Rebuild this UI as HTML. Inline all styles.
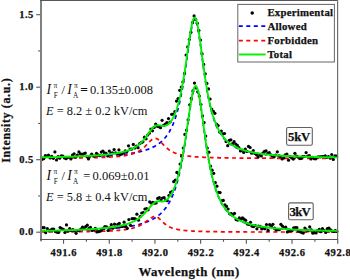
<!DOCTYPE html>
<html><head><meta charset="utf-8"><style>
html,body{margin:0;padding:0;background:#fff;overflow:hidden;}
svg{display:block;}
text{font-family:"Liberation Serif",serif;}
.tl{font-size:10.5px;font-weight:bold;fill:#111;}
.bw{stroke:#111;stroke-width:0.25px;}
.tl{stroke:#111;stroke-width:0.25px;}
.da{fill:none;stroke:#0000ff;stroke-width:1.7;stroke-dasharray:4 3.5;}
.df{fill:none;stroke:#ff0000;stroke-width:1.7;stroke-dasharray:4 3.5;}
.tot{fill:none;stroke:#00f000;stroke-width:1.9;stroke-linejoin:round;}
.ax line{stroke:#555;stroke-width:1.1;}
</style></head><body>
<svg width="350" height="280" viewBox="0 0 350 280">
<rect x="0" y="0" width="350" height="280" fill="#fff"/>
<g><path d="M41.5,157.6 L41.9,157.6 L42.3,157.5 L42.8,157.5 L43.2,157.5 L43.6,157.5 L44.0,157.5 L44.5,157.5 L44.9,157.5 L45.3,157.5 L45.7,157.5 L46.2,157.5 L46.6,157.5 L47.0,157.5 L47.4,157.5 L47.8,157.5 L48.3,157.5 L48.7,157.5 L49.1,157.5 L49.5,157.5 L50.0,157.5 L50.4,157.4 L50.8,157.4 L51.2,157.4 L51.6,157.4 L52.1,157.4 L52.5,157.4 L52.9,157.4 L53.3,157.4 L53.8,157.4 L54.2,157.4 L54.6,157.4 L55.0,157.4 L55.5,157.4 L55.9,157.4 L56.3,157.4 L56.7,157.3 L57.1,157.3 L57.6,157.3 L58.0,157.3 L58.4,157.3 L58.8,157.3 L59.3,157.3 L59.7,157.3 L60.1,157.3 L60.5,157.3 L60.9,157.3 L61.4,157.3 L61.8,157.3 L62.2,157.3 L62.6,157.2 L63.1,157.2 L63.5,157.2 L63.9,157.2 L64.3,157.2 L64.8,157.2 L65.2,157.2 L65.6,157.2 L66.0,157.2 L66.4,157.2 L66.9,157.2 L67.3,157.2 L67.7,157.2 L68.1,157.1 L68.6,157.1 L69.0,157.1 L69.4,157.1 L69.8,157.1 L70.2,157.1 L70.7,157.1 L71.1,157.1 L71.5,157.1 L71.9,157.1 L72.4,157.1 L72.8,157.0 L73.2,157.0 L73.6,157.0 L74.1,157.0 L74.5,157.0 L74.9,157.0 L75.3,157.0 L75.7,157.0 L76.2,157.0 L76.6,156.9 L77.0,156.9 L77.4,156.9 L77.9,156.9 L78.3,156.9 L78.7,156.9 L79.1,156.9 L79.5,156.9 L80.0,156.9 L80.4,156.8 L80.8,156.8 L81.2,156.8 L81.7,156.8 L82.1,156.8 L82.5,156.8 L82.9,156.8 L83.4,156.8 L83.8,156.7 L84.2,156.7 L84.6,156.7 L85.0,156.7 L85.5,156.7 L85.9,156.7 L86.3,156.7 L86.7,156.7 L87.2,156.6 L87.6,156.6 L88.0,156.6 L88.4,156.6 L88.8,156.6 L89.3,156.6 L89.7,156.6 L90.1,156.5 L90.5,156.5 L91.0,156.5 L91.4,156.5 L91.8,156.5 L92.2,156.5 L92.7,156.4 L93.1,156.4 L93.5,156.4 L93.9,156.4 L94.3,156.4 L94.8,156.4 L95.2,156.3 L95.6,156.3 L96.0,156.3 L96.5,156.3 L96.9,156.3 L97.3,156.2 L97.7,156.2 L98.1,156.2 L98.6,156.2 L99.0,156.2 L99.4,156.2 L99.8,156.1 L100.3,156.1 L100.7,156.1 L101.1,156.1 L101.5,156.0 L102.0,156.0 L102.4,156.0 L102.8,156.0 L103.2,156.0 L103.6,155.9 L104.1,155.9 L104.5,155.9 L104.9,155.9 L105.3,155.8 L105.8,155.8 L106.2,155.8 L106.6,155.8 L107.0,155.7 L107.4,155.7 L107.9,155.7 L108.3,155.7 L108.7,155.6 L109.1,155.6 L109.6,155.6 L110.0,155.6 L110.4,155.5 L110.8,155.5 L111.3,155.5 L111.7,155.4 L112.1,155.4 L112.5,155.4 L112.9,155.3 L113.4,155.3 L113.8,155.3 L114.2,155.2 L114.6,155.2 L115.1,155.2 L115.5,155.1 L115.9,155.1 L116.3,155.1 L116.7,155.0 L117.2,155.0 L117.6,155.0 L118.0,154.9 L118.4,154.9 L118.9,154.9 L119.3,154.8 L119.7,154.8 L120.1,154.7 L120.6,154.7 L121.0,154.6 L121.4,154.6 L121.8,154.6 L122.2,154.5 L122.7,154.5 L123.1,154.4 L123.5,154.4 L123.9,154.3 L124.4,154.3 L124.8,154.2 L125.2,154.2 L125.6,154.1 L126.0,154.1 L126.5,154.0 L126.9,154.0 L127.3,153.9 L127.7,153.9 L128.2,153.8 L128.6,153.8 L129.0,153.7 L129.4,153.6 L129.9,153.6 L130.3,153.5 L130.7,153.4 L131.1,153.4 L131.5,153.3 L132.0,153.2 L132.4,153.2 L132.8,153.1 L133.2,153.0 L133.7,153.0 L134.1,152.9 L134.5,152.8 L134.9,152.7 L135.3,152.7 L135.8,152.6 L136.2,152.5 L136.6,152.4 L137.0,152.3 L137.5,152.2 L137.9,152.2 L138.3,152.1 L138.7,152.0 L139.2,151.9 L139.6,151.8 L140.0,151.7 L140.4,151.6 L140.8,151.5 L141.3,151.4 L141.7,151.3 L142.1,151.2 L142.5,151.0 L143.0,150.9 L143.4,150.8 L143.8,150.7 L144.2,150.6 L144.7,150.4 L145.1,150.3 L145.5,150.2 L145.9,150.0 L146.3,149.9 L146.8,149.8 L147.2,149.6 L147.6,149.5 L148.0,149.3 L148.5,149.2 L148.9,149.0 L149.3,148.8 L149.7,148.7 L150.1,148.5 L150.6,148.3 L151.0,148.1 L151.4,148.0 L151.8,147.8 L152.3,147.6 L152.7,147.4 L153.1,147.1 L153.5,146.9 L154.0,146.7 L154.4,146.5 L154.8,146.3 L155.2,146.0 L155.6,145.8 L156.1,145.5 L156.5,145.3 L156.9,145.0 L157.3,144.7 L157.8,144.4 L158.2,144.1 L158.6,143.8 L159.0,143.5 L159.4,143.2 L159.9,142.9 L160.3,142.5 L160.7,142.2 L161.1,141.8 L161.6,141.4 L162.0,141.1 L162.4,140.7 L162.8,140.2 L163.3,139.8 L163.7,139.4 L164.1,138.9 L164.5,138.4 L164.9,138.0 L165.4,137.5 L165.8,136.9 L166.2,136.4 L166.6,135.8 L167.1,135.2 L167.5,134.6 L167.9,134.0 L168.3,133.4 L168.7,132.7 L169.2,132.0 L169.6,131.3 L170.0,130.5 L170.4,129.8 L170.9,129.0 L171.3,128.1 L171.7,127.2 L172.1,126.3 L172.6,125.4 L173.0,124.4 L173.4,123.4 L173.8,122.3 L174.2,121.2 L174.7,120.1 L175.1,118.9 L175.5,117.6 L175.9,116.3 L176.4,115.0 L176.8,113.6 L177.2,112.1 L177.6,110.6 L178.0,109.0 L178.5,107.4 L178.9,105.7 L179.3,103.9 L179.7,102.0 L180.2,100.1 L180.6,98.1 L181.0,96.0 L181.4,93.8 L181.9,91.6 L182.3,89.3 L182.7,86.9 L183.1,84.4 L183.5,81.8 L184.0,79.2 L184.4,76.5 L184.8,73.7 L185.2,70.8 L185.7,67.9 L186.1,64.9 L186.5,61.9 L186.9,58.8 L187.3,55.8 L187.8,52.7 L188.2,49.6 L188.6,46.6 L189.0,43.6 L189.5,40.6 L189.9,37.8 L190.3,35.0 L190.7,32.4 L191.2,30.0 L191.6,27.8 L192.0,25.8 L192.4,24.0 L192.8,22.5 L193.3,21.2 L193.7,20.3 L194.1,19.7 L194.5,19.4 L195.0,19.4 L195.4,19.8 L195.8,20.5 L196.2,21.5 L196.6,22.8 L197.1,24.5 L197.5,26.4 L197.9,28.6 L198.3,30.9 L198.8,33.5 L199.2,36.2 L199.6,39.1 L200.0,42.1 L200.5,45.2 L200.9,48.3 L201.3,51.5 L201.7,54.6 L202.1,57.8 L202.6,61.0 L203.0,64.1 L203.4,67.2 L203.8,70.2 L204.3,73.2 L204.7,76.0 L205.1,78.9 L205.5,81.6 L205.9,84.2 L206.4,86.8 L206.8,89.3 L207.2,91.7 L207.6,94.0 L208.1,96.2 L208.5,98.3 L208.9,100.4 L209.3,102.4 L209.8,104.3 L210.2,106.1 L210.6,107.8 L211.0,109.5 L211.4,111.1 L211.9,112.7 L212.3,114.2 L212.7,115.6 L213.1,116.9 L213.6,118.3 L214.0,119.5 L214.4,120.7 L214.8,121.9 L215.2,123.0 L215.7,124.1 L216.1,125.1 L216.5,126.1 L216.9,127.0 L217.4,127.9 L217.8,128.8 L218.2,129.6 L218.6,130.4 L219.1,131.2 L219.5,132.0 L219.9,132.7 L220.3,133.4 L220.7,134.0 L221.2,134.7 L221.6,135.3 L222.0,135.9 L222.4,136.5 L222.9,137.0 L223.3,137.6 L223.7,138.1 L224.1,138.6 L224.5,139.1 L225.0,139.5 L225.4,140.0 L225.8,140.4 L226.2,140.8 L226.7,141.2 L227.1,141.6 L227.5,142.0 L227.9,142.4 L228.4,142.7 L228.8,143.1 L229.2,143.4 L229.6,143.7 L230.0,144.0 L230.5,144.4 L230.9,144.6 L231.3,144.9 L231.7,145.2 L232.2,145.5 L232.6,145.7 L233.0,146.0 L233.4,146.2 L233.8,146.5 L234.3,146.7 L234.7,146.9 L235.1,147.2 L235.5,147.4 L236.0,147.6 L236.4,147.8 L236.8,148.0 L237.2,148.2 L237.7,148.4 L238.1,148.5 L238.5,148.7 L238.9,148.9 L239.3,149.1 L239.8,149.2 L240.2,149.4 L240.6,149.5 L241.0,149.7 L241.5,149.8 L241.9,150.0 L242.3,150.1 L242.7,150.3 L243.2,150.4 L243.6,150.5 L244.0,150.7 L244.4,150.8 L244.8,150.9 L245.3,151.0 L245.7,151.1 L246.1,151.3 L246.5,151.4 L247.0,151.5 L247.4,151.6 L247.8,151.7 L248.2,151.8 L248.6,151.9 L249.1,152.0 L249.5,152.1 L249.9,152.2 L250.3,152.3 L250.8,152.4 L251.2,152.4 L251.6,152.5 L252.0,152.6 L252.5,152.7 L252.9,152.8 L253.3,152.8 L253.7,152.9 L254.1,153.0 L254.6,153.1 L255.0,153.1 L255.4,153.2 L255.8,153.3 L256.3,153.4 L256.7,153.4 L257.1,153.5 L257.5,153.6 L257.9,153.6 L258.4,153.7 L258.8,153.7 L259.2,153.8 L259.6,153.9 L260.1,153.9 L260.5,154.0 L260.9,154.0 L261.3,154.1 L261.8,154.1 L262.2,154.2 L262.6,154.2 L263.0,154.3 L263.4,154.3 L263.9,154.4 L264.3,154.4 L264.7,154.5 L265.1,154.5 L265.6,154.6 L266.0,154.6 L266.4,154.7 L266.8,154.7 L267.2,154.7 L267.7,154.8 L268.1,154.8 L268.5,154.9 L268.9,154.9 L269.4,154.9 L269.8,155.0 L270.2,155.0 L270.6,155.1 L271.1,155.1 L271.5,155.1 L271.9,155.2 L272.3,155.2 L272.7,155.2 L273.2,155.3 L273.6,155.3 L274.0,155.3 L274.4,155.4 L274.9,155.4 L275.3,155.4 L275.7,155.5 L276.1,155.5 L276.5,155.5 L277.0,155.6 L277.4,155.6 L277.8,155.6 L278.2,155.6 L278.7,155.7 L279.1,155.7 L279.5,155.7 L279.9,155.8 L280.4,155.8 L280.8,155.8 L281.2,155.8 L281.6,155.9 L282.0,155.9 L282.5,155.9 L282.9,155.9 L283.3,155.9 L283.7,156.0 L284.2,156.0 L284.6,156.0 L285.0,156.0 L285.4,156.1 L285.8,156.1 L286.3,156.1 L286.7,156.1 L287.1,156.1 L287.5,156.2 L288.0,156.2 L288.4,156.2 L288.8,156.2 L289.2,156.2 L289.7,156.3 L290.1,156.3 L290.5,156.3 L290.9,156.3 L291.3,156.3 L291.8,156.4 L292.2,156.4 L292.6,156.4 L293.0,156.4 L293.5,156.4 L293.9,156.4 L294.3,156.5 L294.7,156.5 L295.1,156.5 L295.6,156.5 L296.0,156.5 L296.4,156.5 L296.8,156.6 L297.3,156.6 L297.7,156.6 L298.1,156.6 L298.5,156.6 L299.0,156.6 L299.4,156.7 L299.8,156.7 L300.2,156.7 L300.6,156.7 L301.1,156.7 L301.5,156.7 L301.9,156.7 L302.3,156.7 L302.8,156.8 L303.2,156.8 L303.6,156.8 L304.0,156.8 L304.4,156.8 L304.9,156.8 L305.3,156.8 L305.7,156.9 L306.1,156.9 L306.6,156.9 L307.0,156.9 L307.4,156.9 L307.8,156.9 L308.3,156.9 L308.7,156.9 L309.1,156.9 L309.5,157.0 L309.9,157.0 L310.4,157.0 L310.8,157.0 L311.2,157.0 L311.6,157.0 L312.1,157.0 L312.5,157.0 L312.9,157.0 L313.3,157.0 L313.7,157.1 L314.2,157.1 L314.6,157.1 L315.0,157.1 L315.4,157.1 L315.9,157.1 L316.3,157.1 L316.7,157.1 L317.1,157.1 L317.6,157.1 L318.0,157.2 L318.4,157.2 L318.8,157.2 L319.2,157.2 L319.7,157.2 L320.1,157.2 L320.5,157.2 L320.9,157.2 L321.4,157.2 L321.8,157.2 L322.2,157.2 L322.6,157.2 L323.0,157.3 L323.5,157.3 L323.9,157.3 L324.3,157.3 L324.7,157.3 L325.2,157.3 L325.6,157.3 L326.0,157.3 L326.4,157.3 L326.9,157.3 L327.3,157.3 L327.7,157.3 L328.1,157.3 L328.5,157.3 L329.0,157.4 L329.4,157.4 L329.8,157.4 L330.2,157.4 L330.7,157.4 L331.1,157.4 L331.5,157.4 L331.9,157.4 L332.3,157.4 L332.8,157.4 L333.2,157.4 L333.6,157.4 L334.0,157.4 L334.5,157.4 L334.9,157.4 L335.3,157.5 L335.7,157.5 L336.2,157.5 L336.6,157.5 L337.0,157.5" class="da"/><path d="M41.5,158.2 L41.9,158.2 L42.3,158.2 L42.8,158.2 L43.2,158.2 L43.6,158.2 L44.0,158.2 L44.5,158.2 L44.9,158.2 L45.3,158.2 L45.7,158.2 L46.2,158.2 L46.6,158.2 L47.0,158.2 L47.4,158.2 L47.8,158.2 L48.3,158.2 L48.7,158.2 L49.1,158.2 L49.5,158.2 L50.0,158.2 L50.4,158.2 L50.8,158.2 L51.2,158.2 L51.6,158.2 L52.1,158.2 L52.5,158.2 L52.9,158.2 L53.3,158.2 L53.8,158.2 L54.2,158.2 L54.6,158.2 L55.0,158.2 L55.5,158.2 L55.9,158.2 L56.3,158.2 L56.7,158.2 L57.1,158.2 L57.6,158.1 L58.0,158.1 L58.4,158.1 L58.8,158.1 L59.3,158.1 L59.7,158.1 L60.1,158.1 L60.5,158.1 L60.9,158.1 L61.4,158.1 L61.8,158.1 L62.2,158.1 L62.6,158.1 L63.1,158.1 L63.5,158.1 L63.9,158.1 L64.3,158.1 L64.8,158.1 L65.2,158.1 L65.6,158.1 L66.0,158.1 L66.4,158.1 L66.9,158.1 L67.3,158.1 L67.7,158.1 L68.1,158.1 L68.6,158.1 L69.0,158.1 L69.4,158.1 L69.8,158.1 L70.2,158.1 L70.7,158.0 L71.1,158.0 L71.5,158.0 L71.9,158.0 L72.4,158.0 L72.8,158.0 L73.2,158.0 L73.6,158.0 L74.1,158.0 L74.5,158.0 L74.9,158.0 L75.3,158.0 L75.7,158.0 L76.2,158.0 L76.6,158.0 L77.0,158.0 L77.4,158.0 L77.9,158.0 L78.3,158.0 L78.7,158.0 L79.1,158.0 L79.5,157.9 L80.0,157.9 L80.4,157.9 L80.8,157.9 L81.2,157.9 L81.7,157.9 L82.1,157.9 L82.5,157.9 L82.9,157.9 L83.4,157.9 L83.8,157.9 L84.2,157.9 L84.6,157.9 L85.0,157.9 L85.5,157.9 L85.9,157.9 L86.3,157.8 L86.7,157.8 L87.2,157.8 L87.6,157.8 L88.0,157.8 L88.4,157.8 L88.8,157.8 L89.3,157.8 L89.7,157.8 L90.1,157.8 L90.5,157.8 L91.0,157.8 L91.4,157.7 L91.8,157.7 L92.2,157.7 L92.7,157.7 L93.1,157.7 L93.5,157.7 L93.9,157.7 L94.3,157.7 L94.8,157.7 L95.2,157.7 L95.6,157.6 L96.0,157.6 L96.5,157.6 L96.9,157.6 L97.3,157.6 L97.7,157.6 L98.1,157.6 L98.6,157.6 L99.0,157.5 L99.4,157.5 L99.8,157.5 L100.3,157.5 L100.7,157.5 L101.1,157.5 L101.5,157.5 L102.0,157.5 L102.4,157.4 L102.8,157.4 L103.2,157.4 L103.6,157.4 L104.1,157.4 L104.5,157.4 L104.9,157.3 L105.3,157.3 L105.8,157.3 L106.2,157.3 L106.6,157.3 L107.0,157.2 L107.4,157.2 L107.9,157.2 L108.3,157.2 L108.7,157.2 L109.1,157.1 L109.6,157.1 L110.0,157.1 L110.4,157.1 L110.8,157.0 L111.3,157.0 L111.7,157.0 L112.1,157.0 L112.5,156.9 L112.9,156.9 L113.4,156.9 L113.8,156.8 L114.2,156.8 L114.6,156.8 L115.1,156.7 L115.5,156.7 L115.9,156.7 L116.3,156.6 L116.7,156.6 L117.2,156.6 L117.6,156.5 L118.0,156.5 L118.4,156.4 L118.9,156.4 L119.3,156.4 L119.7,156.3 L120.1,156.3 L120.6,156.2 L121.0,156.2 L121.4,156.1 L121.8,156.1 L122.2,156.0 L122.7,156.0 L123.1,155.9 L123.5,155.8 L123.9,155.8 L124.4,155.7 L124.8,155.6 L125.2,155.6 L125.6,155.5 L126.0,155.4 L126.5,155.4 L126.9,155.3 L127.3,155.2 L127.7,155.1 L128.2,155.0 L128.6,154.9 L129.0,154.8 L129.4,154.7 L129.9,154.6 L130.3,154.5 L130.7,154.4 L131.1,154.3 L131.5,154.2 L132.0,154.1 L132.4,153.9 L132.8,153.8 L133.2,153.7 L133.7,153.5 L134.1,153.4 L134.5,153.2 L134.9,153.1 L135.3,152.9 L135.8,152.7 L136.2,152.5 L136.6,152.3 L137.0,152.1 L137.5,151.9 L137.9,151.7 L138.3,151.5 L138.7,151.2 L139.2,151.0 L139.6,150.7 L140.0,150.5 L140.4,150.2 L140.8,149.9 L141.3,149.6 L141.7,149.3 L142.1,149.0 L142.5,148.7 L143.0,148.3 L143.4,148.0 L143.8,147.6 L144.2,147.2 L144.7,146.8 L145.1,146.4 L145.5,146.0 L145.9,145.6 L146.3,145.1 L146.8,144.7 L147.2,144.2 L147.6,143.8 L148.0,143.3 L148.5,142.9 L148.9,142.4 L149.3,142.0 L149.7,141.6 L150.1,141.1 L150.6,140.7 L151.0,140.3 L151.4,140.0 L151.8,139.6 L152.3,139.3 L152.7,139.0 L153.1,138.8 L153.5,138.6 L154.0,138.5 L154.4,138.4 L154.8,138.3 L155.2,138.3 L155.6,138.3 L156.1,138.4 L156.5,138.6 L156.9,138.7 L157.3,139.0 L157.8,139.2 L158.2,139.5 L158.6,139.9 L159.0,140.2 L159.4,140.6 L159.9,141.0 L160.3,141.4 L160.7,141.9 L161.1,142.3 L161.6,142.8 L162.0,143.2 L162.4,143.7 L162.8,144.1 L163.3,144.6 L163.7,145.0 L164.1,145.5 L164.5,145.9 L164.9,146.3 L165.4,146.7 L165.8,147.1 L166.2,147.5 L166.6,147.9 L167.1,148.3 L167.5,148.6 L167.9,148.9 L168.3,149.3 L168.7,149.6 L169.2,149.9 L169.6,150.2 L170.0,150.4 L170.4,150.7 L170.9,151.0 L171.3,151.2 L171.7,151.5 L172.1,151.7 L172.6,151.9 L173.0,152.1 L173.4,152.3 L173.8,152.5 L174.2,152.7 L174.7,152.9 L175.1,153.0 L175.5,153.2 L175.9,153.4 L176.4,153.5 L176.8,153.7 L177.2,153.8 L177.6,153.9 L178.0,154.1 L178.5,154.2 L178.9,154.3 L179.3,154.4 L179.7,154.5 L180.2,154.6 L180.6,154.7 L181.0,154.8 L181.4,154.9 L181.9,155.0 L182.3,155.1 L182.7,155.2 L183.1,155.3 L183.5,155.4 L184.0,155.4 L184.4,155.5 L184.8,155.6 L185.2,155.7 L185.7,155.7 L186.1,155.8 L186.5,155.8 L186.9,155.9 L187.3,156.0 L187.8,156.0 L188.2,156.1 L188.6,156.1 L189.0,156.2 L189.5,156.2 L189.9,156.3 L190.3,156.3 L190.7,156.4 L191.2,156.4 L191.6,156.5 L192.0,156.5 L192.4,156.5 L192.8,156.6 L193.3,156.6 L193.7,156.6 L194.1,156.7 L194.5,156.7 L195.0,156.8 L195.4,156.8 L195.8,156.8 L196.2,156.8 L196.6,156.9 L197.1,156.9 L197.5,156.9 L197.9,157.0 L198.3,157.0 L198.8,157.0 L199.2,157.0 L199.6,157.1 L200.0,157.1 L200.5,157.1 L200.9,157.1 L201.3,157.2 L201.7,157.2 L202.1,157.2 L202.6,157.2 L203.0,157.2 L203.4,157.3 L203.8,157.3 L204.3,157.3 L204.7,157.3 L205.1,157.3 L205.5,157.4 L205.9,157.4 L206.4,157.4 L206.8,157.4 L207.2,157.4 L207.6,157.4 L208.1,157.5 L208.5,157.5 L208.9,157.5 L209.3,157.5 L209.8,157.5 L210.2,157.5 L210.6,157.5 L211.0,157.6 L211.4,157.6 L211.9,157.6 L212.3,157.6 L212.7,157.6 L213.1,157.6 L213.6,157.6 L214.0,157.6 L214.4,157.7 L214.8,157.7 L215.2,157.7 L215.7,157.7 L216.1,157.7 L216.5,157.7 L216.9,157.7 L217.4,157.7 L217.8,157.7 L218.2,157.7 L218.6,157.8 L219.1,157.8 L219.5,157.8 L219.9,157.8 L220.3,157.8 L220.7,157.8 L221.2,157.8 L221.6,157.8 L222.0,157.8 L222.4,157.8 L222.9,157.8 L223.3,157.8 L223.7,157.8 L224.1,157.9 L224.5,157.9 L225.0,157.9 L225.4,157.9 L225.8,157.9 L226.2,157.9 L226.7,157.9 L227.1,157.9 L227.5,157.9 L227.9,157.9 L228.4,157.9 L228.8,157.9 L229.2,157.9 L229.6,157.9 L230.0,157.9 L230.5,158.0 L230.9,158.0 L231.3,158.0 L231.7,158.0 L232.2,158.0 L232.6,158.0 L233.0,158.0 L233.4,158.0 L233.8,158.0 L234.3,158.0 L234.7,158.0 L235.1,158.0 L235.5,158.0 L236.0,158.0 L236.4,158.0 L236.8,158.0 L237.2,158.0 L237.7,158.0 L238.1,158.0 L238.5,158.0 L238.9,158.0 L239.3,158.1 L239.8,158.1 L240.2,158.1 L240.6,158.1 L241.0,158.1 L241.5,158.1 L241.9,158.1 L242.3,158.1 L242.7,158.1 L243.2,158.1 L243.6,158.1 L244.0,158.1 L244.4,158.1 L244.8,158.1 L245.3,158.1 L245.7,158.1 L246.1,158.1 L246.5,158.1 L247.0,158.1 L247.4,158.1 L247.8,158.1 L248.2,158.1 L248.6,158.1 L249.1,158.1 L249.5,158.1 L249.9,158.1 L250.3,158.1 L250.8,158.1 L251.2,158.1 L251.6,158.1 L252.0,158.1 L252.5,158.2 L252.9,158.2 L253.3,158.2 L253.7,158.2 L254.1,158.2 L254.6,158.2 L255.0,158.2 L255.4,158.2 L255.8,158.2 L256.3,158.2 L256.7,158.2 L257.1,158.2 L257.5,158.2 L257.9,158.2 L258.4,158.2 L258.8,158.2 L259.2,158.2 L259.6,158.2 L260.1,158.2 L260.5,158.2 L260.9,158.2 L261.3,158.2 L261.8,158.2 L262.2,158.2 L262.6,158.2 L263.0,158.2 L263.4,158.2 L263.9,158.2 L264.3,158.2 L264.7,158.2 L265.1,158.2 L265.6,158.2 L266.0,158.2 L266.4,158.2 L266.8,158.2 L267.2,158.2 L267.7,158.2 L268.1,158.2 L268.5,158.2 L268.9,158.2 L269.4,158.2 L269.8,158.2 L270.2,158.2 L270.6,158.2 L271.1,158.2 L271.5,158.2 L271.9,158.2 L272.3,158.2 L272.7,158.2 L273.2,158.2 L273.6,158.3 L274.0,158.3 L274.4,158.3 L274.9,158.3 L275.3,158.3 L275.7,158.3 L276.1,158.3 L276.5,158.3 L277.0,158.3 L277.4,158.3 L277.8,158.3 L278.2,158.3 L278.7,158.3 L279.1,158.3 L279.5,158.3 L279.9,158.3 L280.4,158.3 L280.8,158.3 L281.2,158.3 L281.6,158.3 L282.0,158.3 L282.5,158.3 L282.9,158.3 L283.3,158.3 L283.7,158.3 L284.2,158.3 L284.6,158.3 L285.0,158.3 L285.4,158.3 L285.8,158.3 L286.3,158.3 L286.7,158.3 L287.1,158.3 L287.5,158.3 L288.0,158.3 L288.4,158.3 L288.8,158.3 L289.2,158.3 L289.7,158.3 L290.1,158.3 L290.5,158.3 L290.9,158.3 L291.3,158.3 L291.8,158.3 L292.2,158.3 L292.6,158.3 L293.0,158.3 L293.5,158.3 L293.9,158.3 L294.3,158.3 L294.7,158.3 L295.1,158.3 L295.6,158.3 L296.0,158.3 L296.4,158.3 L296.8,158.3 L297.3,158.3 L297.7,158.3 L298.1,158.3 L298.5,158.3 L299.0,158.3 L299.4,158.3 L299.8,158.3 L300.2,158.3 L300.6,158.3 L301.1,158.3 L301.5,158.3 L301.9,158.3 L302.3,158.3 L302.8,158.3 L303.2,158.3 L303.6,158.3 L304.0,158.3 L304.4,158.3 L304.9,158.3 L305.3,158.3 L305.7,158.3 L306.1,158.3 L306.6,158.3 L307.0,158.3 L307.4,158.3 L307.8,158.3 L308.3,158.3 L308.7,158.3 L309.1,158.3 L309.5,158.3 L309.9,158.3 L310.4,158.3 L310.8,158.3 L311.2,158.3 L311.6,158.3 L312.1,158.3 L312.5,158.3 L312.9,158.3 L313.3,158.3 L313.7,158.3 L314.2,158.3 L314.6,158.3 L315.0,158.3 L315.4,158.3 L315.9,158.3 L316.3,158.3 L316.7,158.3 L317.1,158.3 L317.6,158.3 L318.0,158.3 L318.4,158.3 L318.8,158.3 L319.2,158.4 L319.7,158.4 L320.1,158.4 L320.5,158.4 L320.9,158.4 L321.4,158.4 L321.8,158.4 L322.2,158.4 L322.6,158.4 L323.0,158.4 L323.5,158.4 L323.9,158.4 L324.3,158.4 L324.7,158.4 L325.2,158.4 L325.6,158.4 L326.0,158.4 L326.4,158.4 L326.9,158.4 L327.3,158.4 L327.7,158.4 L328.1,158.4 L328.5,158.4 L329.0,158.4 L329.4,158.4 L329.8,158.4 L330.2,158.4 L330.7,158.4 L331.1,158.4 L331.5,158.4 L331.9,158.4 L332.3,158.4 L332.8,158.4 L333.2,158.4 L333.6,158.4 L334.0,158.4 L334.5,158.4 L334.9,158.4 L335.3,158.4 L335.7,158.4 L336.2,158.4 L336.6,158.4 L337.0,158.4" class="df"/><path d="M41.5,231.1 L41.9,231.0 L42.3,231.0 L42.8,231.0 L43.2,231.0 L43.6,231.0 L44.0,231.0 L44.5,231.0 L44.9,231.0 L45.3,231.0 L45.7,231.0 L46.2,231.0 L46.6,231.0 L47.0,231.0 L47.4,231.0 L47.8,231.0 L48.3,231.0 L48.7,230.9 L49.1,230.9 L49.5,230.9 L50.0,230.9 L50.4,230.9 L50.8,230.9 L51.2,230.9 L51.6,230.9 L52.1,230.9 L52.5,230.9 L52.9,230.9 L53.3,230.9 L53.8,230.9 L54.2,230.8 L54.6,230.8 L55.0,230.8 L55.5,230.8 L55.9,230.8 L56.3,230.8 L56.7,230.8 L57.1,230.8 L57.6,230.8 L58.0,230.8 L58.4,230.8 L58.8,230.8 L59.3,230.8 L59.7,230.7 L60.1,230.7 L60.5,230.7 L60.9,230.7 L61.4,230.7 L61.8,230.7 L62.2,230.7 L62.6,230.7 L63.1,230.7 L63.5,230.7 L63.9,230.7 L64.3,230.6 L64.8,230.6 L65.2,230.6 L65.6,230.6 L66.0,230.6 L66.4,230.6 L66.9,230.6 L67.3,230.6 L67.7,230.6 L68.1,230.6 L68.6,230.5 L69.0,230.5 L69.4,230.5 L69.8,230.5 L70.2,230.5 L70.7,230.5 L71.1,230.5 L71.5,230.5 L71.9,230.5 L72.4,230.4 L72.8,230.4 L73.2,230.4 L73.6,230.4 L74.1,230.4 L74.5,230.4 L74.9,230.4 L75.3,230.4 L75.7,230.4 L76.2,230.3 L76.6,230.3 L77.0,230.3 L77.4,230.3 L77.9,230.3 L78.3,230.3 L78.7,230.3 L79.1,230.2 L79.5,230.2 L80.0,230.2 L80.4,230.2 L80.8,230.2 L81.2,230.2 L81.7,230.2 L82.1,230.1 L82.5,230.1 L82.9,230.1 L83.4,230.1 L83.8,230.1 L84.2,230.1 L84.6,230.1 L85.0,230.0 L85.5,230.0 L85.9,230.0 L86.3,230.0 L86.7,230.0 L87.2,230.0 L87.6,229.9 L88.0,229.9 L88.4,229.9 L88.8,229.9 L89.3,229.9 L89.7,229.9 L90.1,229.8 L90.5,229.8 L91.0,229.8 L91.4,229.8 L91.8,229.8 L92.2,229.7 L92.7,229.7 L93.1,229.7 L93.5,229.7 L93.9,229.7 L94.3,229.6 L94.8,229.6 L95.2,229.6 L95.6,229.6 L96.0,229.6 L96.5,229.5 L96.9,229.5 L97.3,229.5 L97.7,229.5 L98.1,229.5 L98.6,229.4 L99.0,229.4 L99.4,229.4 L99.8,229.4 L100.3,229.3 L100.7,229.3 L101.1,229.3 L101.5,229.3 L102.0,229.2 L102.4,229.2 L102.8,229.2 L103.2,229.2 L103.6,229.1 L104.1,229.1 L104.5,229.1 L104.9,229.0 L105.3,229.0 L105.8,229.0 L106.2,229.0 L106.6,228.9 L107.0,228.9 L107.4,228.9 L107.9,228.8 L108.3,228.8 L108.7,228.8 L109.1,228.7 L109.6,228.7 L110.0,228.7 L110.4,228.6 L110.8,228.6 L111.3,228.6 L111.7,228.5 L112.1,228.5 L112.5,228.5 L112.9,228.4 L113.4,228.4 L113.8,228.4 L114.2,228.3 L114.6,228.3 L115.1,228.2 L115.5,228.2 L115.9,228.2 L116.3,228.1 L116.7,228.1 L117.2,228.0 L117.6,228.0 L118.0,227.9 L118.4,227.9 L118.9,227.9 L119.3,227.8 L119.7,227.8 L120.1,227.7 L120.6,227.7 L121.0,227.6 L121.4,227.6 L121.8,227.5 L122.2,227.5 L122.7,227.4 L123.1,227.4 L123.5,227.3 L123.9,227.2 L124.4,227.2 L124.8,227.1 L125.2,227.1 L125.6,227.0 L126.0,227.0 L126.5,226.9 L126.9,226.8 L127.3,226.8 L127.7,226.7 L128.2,226.6 L128.6,226.6 L129.0,226.5 L129.4,226.4 L129.9,226.4 L130.3,226.3 L130.7,226.2 L131.1,226.1 L131.5,226.1 L132.0,226.0 L132.4,225.9 L132.8,225.8 L133.2,225.8 L133.7,225.7 L134.1,225.6 L134.5,225.5 L134.9,225.4 L135.3,225.3 L135.8,225.2 L136.2,225.1 L136.6,225.0 L137.0,224.9 L137.5,224.8 L137.9,224.7 L138.3,224.6 L138.7,224.5 L139.2,224.4 L139.6,224.3 L140.0,224.2 L140.4,224.1 L140.8,224.0 L141.3,223.8 L141.7,223.7 L142.1,223.6 L142.5,223.5 L143.0,223.3 L143.4,223.2 L143.8,223.1 L144.2,222.9 L144.7,222.8 L145.1,222.6 L145.5,222.5 L145.9,222.3 L146.3,222.2 L146.8,222.0 L147.2,221.8 L147.6,221.7 L148.0,221.5 L148.5,221.3 L148.9,221.1 L149.3,221.0 L149.7,220.8 L150.1,220.6 L150.6,220.4 L151.0,220.2 L151.4,220.0 L151.8,219.7 L152.3,219.5 L152.7,219.3 L153.1,219.1 L153.5,218.8 L154.0,218.6 L154.4,218.3 L154.8,218.1 L155.2,217.8 L155.6,217.5 L156.1,217.2 L156.5,217.0 L156.9,216.7 L157.3,216.4 L157.8,216.0 L158.2,215.7 L158.6,215.4 L159.0,215.0 L159.4,214.7 L159.9,214.3 L160.3,213.9 L160.7,213.6 L161.1,213.2 L161.6,212.8 L162.0,212.3 L162.4,211.9 L162.8,211.4 L163.3,211.0 L163.7,210.5 L164.1,210.0 L164.5,209.5 L164.9,209.0 L165.4,208.4 L165.8,207.9 L166.2,207.3 L166.6,206.7 L167.1,206.1 L167.5,205.4 L167.9,204.8 L168.3,204.1 L168.7,203.4 L169.2,202.6 L169.6,201.9 L170.0,201.1 L170.4,200.3 L170.9,199.4 L171.3,198.5 L171.7,197.6 L172.1,196.7 L172.6,195.7 L173.0,194.7 L173.4,193.6 L173.8,192.5 L174.2,191.4 L174.7,190.2 L175.1,189.0 L175.5,187.7 L175.9,186.4 L176.4,185.0 L176.8,183.6 L177.2,182.2 L177.6,180.6 L178.0,179.1 L178.5,177.4 L178.9,175.7 L179.3,173.9 L179.7,172.1 L180.2,170.2 L180.6,168.2 L181.0,166.2 L181.4,164.1 L181.9,161.9 L182.3,159.7 L182.7,157.3 L183.1,155.0 L183.5,152.5 L184.0,149.9 L184.4,147.3 L184.8,144.7 L185.2,141.9 L185.7,139.2 L186.1,136.3 L186.5,133.4 L186.9,130.5 L187.3,127.6 L187.8,124.6 L188.2,121.6 L188.6,118.6 L189.0,115.7 L189.5,112.8 L189.9,109.9 L190.3,107.2 L190.7,104.5 L191.2,101.9 L191.6,99.5 L192.0,97.2 L192.4,95.1 L192.8,93.2 L193.3,91.6 L193.7,90.1 L194.1,88.9 L194.5,88.0 L195.0,87.4 L195.4,87.0 L195.8,86.9 L196.2,87.2 L196.6,87.7 L197.1,88.5 L197.5,89.7 L197.9,91.1 L198.3,92.8 L198.8,94.7 L199.2,96.8 L199.6,99.1 L200.0,101.6 L200.5,104.3 L200.9,107.1 L201.3,109.9 L201.7,112.9 L202.1,115.9 L202.6,119.0 L203.0,122.1 L203.4,125.2 L203.8,128.2 L204.3,131.3 L204.7,134.3 L205.1,137.3 L205.5,140.2 L205.9,143.1 L206.4,145.9 L206.8,148.7 L207.2,151.3 L207.6,153.9 L208.1,156.4 L208.5,158.9 L208.9,161.2 L209.3,163.5 L209.8,165.7 L210.2,167.9 L210.6,169.9 L211.0,171.9 L211.4,173.8 L211.9,175.6 L212.3,177.4 L212.7,179.1 L213.1,180.8 L213.6,182.3 L214.0,183.9 L214.4,185.3 L214.8,186.7 L215.2,188.1 L215.7,189.4 L216.1,190.6 L216.5,191.8 L216.9,193.0 L217.4,194.1 L217.8,195.2 L218.2,196.2 L218.6,197.2 L219.1,198.2 L219.5,199.1 L219.9,200.0 L220.3,200.9 L220.7,201.7 L221.2,202.5 L221.6,203.3 L222.0,204.0 L222.4,204.7 L222.9,205.4 L223.3,206.1 L223.7,206.7 L224.1,207.3 L224.5,207.9 L225.0,208.5 L225.4,209.1 L225.8,209.6 L226.2,210.2 L226.7,210.7 L227.1,211.2 L227.5,211.6 L227.9,212.1 L228.4,212.5 L228.8,213.0 L229.2,213.4 L229.6,213.8 L230.0,214.2 L230.5,214.6 L230.9,214.9 L231.3,215.3 L231.7,215.6 L232.2,216.0 L232.6,216.3 L233.0,216.6 L233.4,216.9 L233.8,217.2 L234.3,217.5 L234.7,217.8 L235.1,218.1 L235.5,218.4 L236.0,218.6 L236.4,218.9 L236.8,219.1 L237.2,219.4 L237.7,219.6 L238.1,219.8 L238.5,220.0 L238.9,220.3 L239.3,220.5 L239.8,220.7 L240.2,220.9 L240.6,221.1 L241.0,221.3 L241.5,221.4 L241.9,221.6 L242.3,221.8 L242.7,222.0 L243.2,222.1 L243.6,222.3 L244.0,222.5 L244.4,222.6 L244.8,222.8 L245.3,222.9 L245.7,223.1 L246.1,223.2 L246.5,223.4 L247.0,223.5 L247.4,223.6 L247.8,223.8 L248.2,223.9 L248.6,224.0 L249.1,224.1 L249.5,224.2 L249.9,224.4 L250.3,224.5 L250.8,224.6 L251.2,224.7 L251.6,224.8 L252.0,224.9 L252.5,225.0 L252.9,225.1 L253.3,225.2 L253.7,225.3 L254.1,225.4 L254.6,225.5 L255.0,225.6 L255.4,225.7 L255.8,225.8 L256.3,225.8 L256.7,225.9 L257.1,226.0 L257.5,226.1 L257.9,226.2 L258.4,226.2 L258.8,226.3 L259.2,226.4 L259.6,226.5 L260.1,226.5 L260.5,226.6 L260.9,226.7 L261.3,226.7 L261.8,226.8 L262.2,226.9 L262.6,226.9 L263.0,227.0 L263.4,227.1 L263.9,227.1 L264.3,227.2 L264.7,227.2 L265.1,227.3 L265.6,227.4 L266.0,227.4 L266.4,227.5 L266.8,227.5 L267.2,227.6 L267.7,227.6 L268.1,227.7 L268.5,227.7 L268.9,227.8 L269.4,227.8 L269.8,227.9 L270.2,227.9 L270.6,228.0 L271.1,228.0 L271.5,228.0 L271.9,228.1 L272.3,228.1 L272.7,228.2 L273.2,228.2 L273.6,228.3 L274.0,228.3 L274.4,228.3 L274.9,228.4 L275.3,228.4 L275.7,228.5 L276.1,228.5 L276.5,228.5 L277.0,228.6 L277.4,228.6 L277.8,228.6 L278.2,228.7 L278.7,228.7 L279.1,228.7 L279.5,228.8 L279.9,228.8 L280.4,228.8 L280.8,228.9 L281.2,228.9 L281.6,228.9 L282.0,229.0 L282.5,229.0 L282.9,229.0 L283.3,229.1 L283.7,229.1 L284.2,229.1 L284.6,229.1 L285.0,229.2 L285.4,229.2 L285.8,229.2 L286.3,229.3 L286.7,229.3 L287.1,229.3 L287.5,229.3 L288.0,229.4 L288.4,229.4 L288.8,229.4 L289.2,229.4 L289.7,229.5 L290.1,229.5 L290.5,229.5 L290.9,229.5 L291.3,229.5 L291.8,229.6 L292.2,229.6 L292.6,229.6 L293.0,229.6 L293.5,229.7 L293.9,229.7 L294.3,229.7 L294.7,229.7 L295.1,229.7 L295.6,229.8 L296.0,229.8 L296.4,229.8 L296.8,229.8 L297.3,229.8 L297.7,229.9 L298.1,229.9 L298.5,229.9 L299.0,229.9 L299.4,229.9 L299.8,229.9 L300.2,230.0 L300.6,230.0 L301.1,230.0 L301.5,230.0 L301.9,230.0 L302.3,230.0 L302.8,230.1 L303.2,230.1 L303.6,230.1 L304.0,230.1 L304.4,230.1 L304.9,230.1 L305.3,230.2 L305.7,230.2 L306.1,230.2 L306.6,230.2 L307.0,230.2 L307.4,230.2 L307.8,230.2 L308.3,230.3 L308.7,230.3 L309.1,230.3 L309.5,230.3 L309.9,230.3 L310.4,230.3 L310.8,230.3 L311.2,230.4 L311.6,230.4 L312.1,230.4 L312.5,230.4 L312.9,230.4 L313.3,230.4 L313.7,230.4 L314.2,230.4 L314.6,230.5 L315.0,230.5 L315.4,230.5 L315.9,230.5 L316.3,230.5 L316.7,230.5 L317.1,230.5 L317.6,230.5 L318.0,230.5 L318.4,230.6 L318.8,230.6 L319.2,230.6 L319.7,230.6 L320.1,230.6 L320.5,230.6 L320.9,230.6 L321.4,230.6 L321.8,230.6 L322.2,230.6 L322.6,230.7 L323.0,230.7 L323.5,230.7 L323.9,230.7 L324.3,230.7 L324.7,230.7 L325.2,230.7 L325.6,230.7 L326.0,230.7 L326.4,230.7 L326.9,230.7 L327.3,230.8 L327.7,230.8 L328.1,230.8 L328.5,230.8 L329.0,230.8 L329.4,230.8 L329.8,230.8 L330.2,230.8 L330.7,230.8 L331.1,230.8 L331.5,230.8 L331.9,230.8 L332.3,230.9 L332.8,230.9 L333.2,230.9 L333.6,230.9 L334.0,230.9 L334.5,230.9 L334.9,230.9 L335.3,230.9 L335.7,230.9 L336.2,230.9 L336.6,230.9 L337.0,230.9" class="da"/><path d="M41.5,231.9 L41.9,231.9 L42.3,231.9 L42.8,231.9 L43.2,231.9 L43.6,231.9 L44.0,231.9 L44.5,231.9 L44.9,231.9 L45.3,231.9 L45.7,231.9 L46.2,231.9 L46.6,231.9 L47.0,231.9 L47.4,231.9 L47.8,231.9 L48.3,231.9 L48.7,231.9 L49.1,231.9 L49.5,231.9 L50.0,231.9 L50.4,231.9 L50.8,231.9 L51.2,231.9 L51.6,231.9 L52.1,231.9 L52.5,231.9 L52.9,231.9 L53.3,231.9 L53.8,231.9 L54.2,231.9 L54.6,231.9 L55.0,231.9 L55.5,231.9 L55.9,231.9 L56.3,231.9 L56.7,231.9 L57.1,231.9 L57.6,231.9 L58.0,231.9 L58.4,231.9 L58.8,231.9 L59.3,231.9 L59.7,231.9 L60.1,231.8 L60.5,231.8 L60.9,231.8 L61.4,231.8 L61.8,231.8 L62.2,231.8 L62.6,231.8 L63.1,231.8 L63.5,231.8 L63.9,231.8 L64.3,231.8 L64.8,231.8 L65.2,231.8 L65.6,231.8 L66.0,231.8 L66.4,231.8 L66.9,231.8 L67.3,231.8 L67.7,231.8 L68.1,231.8 L68.6,231.8 L69.0,231.8 L69.4,231.8 L69.8,231.8 L70.2,231.8 L70.7,231.8 L71.1,231.8 L71.5,231.8 L71.9,231.8 L72.4,231.8 L72.8,231.8 L73.2,231.8 L73.6,231.7 L74.1,231.7 L74.5,231.7 L74.9,231.7 L75.3,231.7 L75.7,231.7 L76.2,231.7 L76.6,231.7 L77.0,231.7 L77.4,231.7 L77.9,231.7 L78.3,231.7 L78.7,231.7 L79.1,231.7 L79.5,231.7 L80.0,231.7 L80.4,231.7 L80.8,231.7 L81.2,231.7 L81.7,231.7 L82.1,231.7 L82.5,231.6 L82.9,231.6 L83.4,231.6 L83.8,231.6 L84.2,231.6 L84.6,231.6 L85.0,231.6 L85.5,231.6 L85.9,231.6 L86.3,231.6 L86.7,231.6 L87.2,231.6 L87.6,231.6 L88.0,231.6 L88.4,231.6 L88.8,231.6 L89.3,231.5 L89.7,231.5 L90.1,231.5 L90.5,231.5 L91.0,231.5 L91.4,231.5 L91.8,231.5 L92.2,231.5 L92.7,231.5 L93.1,231.5 L93.5,231.5 L93.9,231.5 L94.3,231.4 L94.8,231.4 L95.2,231.4 L95.6,231.4 L96.0,231.4 L96.5,231.4 L96.9,231.4 L97.3,231.4 L97.7,231.4 L98.1,231.4 L98.6,231.3 L99.0,231.3 L99.4,231.3 L99.8,231.3 L100.3,231.3 L100.7,231.3 L101.1,231.3 L101.5,231.3 L102.0,231.2 L102.4,231.2 L102.8,231.2 L103.2,231.2 L103.6,231.2 L104.1,231.2 L104.5,231.2 L104.9,231.1 L105.3,231.1 L105.8,231.1 L106.2,231.1 L106.6,231.1 L107.0,231.1 L107.4,231.0 L107.9,231.0 L108.3,231.0 L108.7,231.0 L109.1,231.0 L109.6,230.9 L110.0,230.9 L110.4,230.9 L110.8,230.9 L111.3,230.9 L111.7,230.8 L112.1,230.8 L112.5,230.8 L112.9,230.8 L113.4,230.7 L113.8,230.7 L114.2,230.7 L114.6,230.7 L115.1,230.6 L115.5,230.6 L115.9,230.6 L116.3,230.5 L116.7,230.5 L117.2,230.5 L117.6,230.4 L118.0,230.4 L118.4,230.4 L118.9,230.3 L119.3,230.3 L119.7,230.3 L120.1,230.2 L120.6,230.2 L121.0,230.1 L121.4,230.1 L121.8,230.0 L122.2,230.0 L122.7,230.0 L123.1,229.9 L123.5,229.9 L123.9,229.8 L124.4,229.7 L124.8,229.7 L125.2,229.6 L125.6,229.6 L126.0,229.5 L126.5,229.4 L126.9,229.4 L127.3,229.3 L127.7,229.2 L128.2,229.2 L128.6,229.1 L129.0,229.0 L129.4,228.9 L129.9,228.8 L130.3,228.7 L130.7,228.7 L131.1,228.6 L131.5,228.5 L132.0,228.4 L132.4,228.3 L132.8,228.1 L133.2,228.0 L133.7,227.9 L134.1,227.8 L134.5,227.7 L134.9,227.5 L135.3,227.4 L135.8,227.2 L136.2,227.1 L136.6,226.9 L137.0,226.8 L137.5,226.6 L137.9,226.4 L138.3,226.3 L138.7,226.1 L139.2,225.9 L139.6,225.7 L140.0,225.5 L140.4,225.2 L140.8,225.0 L141.3,224.8 L141.7,224.5 L142.1,224.3 L142.5,224.0 L143.0,223.8 L143.4,223.5 L143.8,223.2 L144.2,222.9 L144.7,222.6 L145.1,222.3 L145.5,222.0 L145.9,221.7 L146.3,221.4 L146.8,221.1 L147.2,220.7 L147.6,220.4 L148.0,220.1 L148.5,219.7 L148.9,219.4 L149.3,219.1 L149.7,218.8 L150.1,218.5 L150.6,218.2 L151.0,217.9 L151.4,217.7 L151.8,217.4 L152.3,217.2 L152.7,217.0 L153.1,216.8 L153.5,216.7 L154.0,216.6 L154.4,216.5 L154.8,216.4 L155.2,216.4 L155.6,216.5 L156.1,216.5 L156.5,216.7 L156.9,216.9 L157.3,217.1 L157.8,217.4 L158.2,217.7 L158.6,218.0 L159.0,218.4 L159.4,218.8 L159.9,219.2 L160.3,219.6 L160.7,220.0 L161.1,220.5 L161.6,220.9 L162.0,221.3 L162.4,221.7 L162.8,222.1 L163.3,222.5 L163.7,222.9 L164.1,223.3 L164.5,223.6 L164.9,224.0 L165.4,224.3 L165.8,224.6 L166.2,225.0 L166.6,225.2 L167.1,225.5 L167.5,225.8 L167.9,226.0 L168.3,226.3 L168.7,226.5 L169.2,226.7 L169.6,227.0 L170.0,227.2 L170.4,227.3 L170.9,227.5 L171.3,227.7 L171.7,227.9 L172.1,228.0 L172.6,228.2 L173.0,228.3 L173.4,228.4 L173.8,228.6 L174.2,228.7 L174.7,228.8 L175.1,228.9 L175.5,229.0 L175.9,229.1 L176.4,229.2 L176.8,229.3 L177.2,229.4 L177.6,229.5 L178.0,229.6 L178.5,229.6 L178.9,229.7 L179.3,229.8 L179.7,229.9 L180.2,229.9 L180.6,230.0 L181.0,230.1 L181.4,230.1 L181.9,230.2 L182.3,230.2 L182.7,230.3 L183.1,230.3 L183.5,230.4 L184.0,230.4 L184.4,230.5 L184.8,230.5 L185.2,230.5 L185.7,230.6 L186.1,230.6 L186.5,230.7 L186.9,230.7 L187.3,230.7 L187.8,230.8 L188.2,230.8 L188.6,230.8 L189.0,230.9 L189.5,230.9 L189.9,230.9 L190.3,230.9 L190.7,231.0 L191.2,231.0 L191.6,231.0 L192.0,231.0 L192.4,231.1 L192.8,231.1 L193.3,231.1 L193.7,231.1 L194.1,231.1 L194.5,231.2 L195.0,231.2 L195.4,231.2 L195.8,231.2 L196.2,231.2 L196.6,231.3 L197.1,231.3 L197.5,231.3 L197.9,231.3 L198.3,231.3 L198.8,231.3 L199.2,231.4 L199.6,231.4 L200.0,231.4 L200.5,231.4 L200.9,231.4 L201.3,231.4 L201.7,231.4 L202.1,231.4 L202.6,231.5 L203.0,231.5 L203.4,231.5 L203.8,231.5 L204.3,231.5 L204.7,231.5 L205.1,231.5 L205.5,231.5 L205.9,231.5 L206.4,231.6 L206.8,231.6 L207.2,231.6 L207.6,231.6 L208.1,231.6 L208.5,231.6 L208.9,231.6 L209.3,231.6 L209.8,231.6 L210.2,231.6 L210.6,231.6 L211.0,231.6 L211.4,231.6 L211.9,231.7 L212.3,231.7 L212.7,231.7 L213.1,231.7 L213.6,231.7 L214.0,231.7 L214.4,231.7 L214.8,231.7 L215.2,231.7 L215.7,231.7 L216.1,231.7 L216.5,231.7 L216.9,231.7 L217.4,231.7 L217.8,231.7 L218.2,231.7 L218.6,231.8 L219.1,231.8 L219.5,231.8 L219.9,231.8 L220.3,231.8 L220.7,231.8 L221.2,231.8 L221.6,231.8 L222.0,231.8 L222.4,231.8 L222.9,231.8 L223.3,231.8 L223.7,231.8 L224.1,231.8 L224.5,231.8 L225.0,231.8 L225.4,231.8 L225.8,231.8 L226.2,231.8 L226.7,231.8 L227.1,231.8 L227.5,231.8 L227.9,231.8 L228.4,231.8 L228.8,231.8 L229.2,231.9 L229.6,231.9 L230.0,231.9 L230.5,231.9 L230.9,231.9 L231.3,231.9 L231.7,231.9 L232.2,231.9 L232.6,231.9 L233.0,231.9 L233.4,231.9 L233.8,231.9 L234.3,231.9 L234.7,231.9 L235.1,231.9 L235.5,231.9 L236.0,231.9 L236.4,231.9 L236.8,231.9 L237.2,231.9 L237.7,231.9 L238.1,231.9 L238.5,231.9 L238.9,231.9 L239.3,231.9 L239.8,231.9 L240.2,231.9 L240.6,231.9 L241.0,231.9 L241.5,231.9 L241.9,231.9 L242.3,231.9 L242.7,231.9 L243.2,231.9 L243.6,231.9 L244.0,231.9 L244.4,231.9 L244.8,231.9 L245.3,231.9 L245.7,231.9 L246.1,231.9 L246.5,232.0 L247.0,232.0 L247.4,232.0 L247.8,232.0 L248.2,232.0 L248.6,232.0 L249.1,232.0 L249.5,232.0 L249.9,232.0 L250.3,232.0 L250.8,232.0 L251.2,232.0 L251.6,232.0 L252.0,232.0 L252.5,232.0 L252.9,232.0 L253.3,232.0 L253.7,232.0 L254.1,232.0 L254.6,232.0 L255.0,232.0 L255.4,232.0 L255.8,232.0 L256.3,232.0 L256.7,232.0 L257.1,232.0 L257.5,232.0 L257.9,232.0 L258.4,232.0 L258.8,232.0 L259.2,232.0 L259.6,232.0 L260.1,232.0 L260.5,232.0 L260.9,232.0 L261.3,232.0 L261.8,232.0 L262.2,232.0 L262.6,232.0 L263.0,232.0 L263.4,232.0 L263.9,232.0 L264.3,232.0 L264.7,232.0 L265.1,232.0 L265.6,232.0 L266.0,232.0 L266.4,232.0 L266.8,232.0 L267.2,232.0 L267.7,232.0 L268.1,232.0 L268.5,232.0 L268.9,232.0 L269.4,232.0 L269.8,232.0 L270.2,232.0 L270.6,232.0 L271.1,232.0 L271.5,232.0 L271.9,232.0 L272.3,232.0 L272.7,232.0 L273.2,232.0 L273.6,232.0 L274.0,232.0 L274.4,232.0 L274.9,232.0 L275.3,232.0 L275.7,232.0 L276.1,232.0 L276.5,232.0 L277.0,232.0 L277.4,232.0 L277.8,232.0 L278.2,232.0 L278.7,232.0 L279.1,232.0 L279.5,232.0 L279.9,232.0 L280.4,232.0 L280.8,232.0 L281.2,232.0 L281.6,232.0 L282.0,232.0 L282.5,232.0 L282.9,232.0 L283.3,232.0 L283.7,232.0 L284.2,232.0 L284.6,232.0 L285.0,232.0 L285.4,232.0 L285.8,232.0 L286.3,232.0 L286.7,232.0 L287.1,232.0 L287.5,232.0 L288.0,232.0 L288.4,232.1 L288.8,232.1 L289.2,232.1 L289.7,232.1 L290.1,232.1 L290.5,232.1 L290.9,232.1 L291.3,232.1 L291.8,232.1 L292.2,232.1 L292.6,232.1 L293.0,232.1 L293.5,232.1 L293.9,232.1 L294.3,232.1 L294.7,232.1 L295.1,232.1 L295.6,232.1 L296.0,232.1 L296.4,232.1 L296.8,232.1 L297.3,232.1 L297.7,232.1 L298.1,232.1 L298.5,232.1 L299.0,232.1 L299.4,232.1 L299.8,232.1 L300.2,232.1 L300.6,232.1 L301.1,232.1 L301.5,232.1 L301.9,232.1 L302.3,232.1 L302.8,232.1 L303.2,232.1 L303.6,232.1 L304.0,232.1 L304.4,232.1 L304.9,232.1 L305.3,232.1 L305.7,232.1 L306.1,232.1 L306.6,232.1 L307.0,232.1 L307.4,232.1 L307.8,232.1 L308.3,232.1 L308.7,232.1 L309.1,232.1 L309.5,232.1 L309.9,232.1 L310.4,232.1 L310.8,232.1 L311.2,232.1 L311.6,232.1 L312.1,232.1 L312.5,232.1 L312.9,232.1 L313.3,232.1 L313.7,232.1 L314.2,232.1 L314.6,232.1 L315.0,232.1 L315.4,232.1 L315.9,232.1 L316.3,232.1 L316.7,232.1 L317.1,232.1 L317.6,232.1 L318.0,232.1 L318.4,232.1 L318.8,232.1 L319.2,232.1 L319.7,232.1 L320.1,232.1 L320.5,232.1 L320.9,232.1 L321.4,232.1 L321.8,232.1 L322.2,232.1 L322.6,232.1 L323.0,232.1 L323.5,232.1 L323.9,232.1 L324.3,232.1 L324.7,232.1 L325.2,232.1 L325.6,232.1 L326.0,232.1 L326.4,232.1 L326.9,232.1 L327.3,232.1 L327.7,232.1 L328.1,232.1 L328.5,232.1 L329.0,232.1 L329.4,232.1 L329.8,232.1 L330.2,232.1 L330.7,232.1 L331.1,232.1 L331.5,232.1 L331.9,232.1 L332.3,232.1 L332.8,232.1 L333.2,232.1 L333.6,232.1 L334.0,232.1 L334.5,232.1 L334.9,232.1 L335.3,232.1 L335.7,232.1 L336.2,232.1 L336.6,232.1 L337.0,232.1" class="df"/></g>
<g fill="#000"><circle cx="42.1" cy="159.3" r="1.6"/><circle cx="43.7" cy="158.7" r="1.6"/><circle cx="45.3" cy="155.7" r="1.6"/><circle cx="46.9" cy="156.0" r="1.6"/><circle cx="48.5" cy="155.2" r="1.6"/><circle cx="50.1" cy="158.0" r="1.6"/><circle cx="51.7" cy="156.3" r="1.6"/><circle cx="53.3" cy="158.3" r="1.6"/><circle cx="54.9" cy="151.9" r="1.6"/><circle cx="56.5" cy="160.0" r="1.6"/><circle cx="58.1" cy="156.5" r="1.6"/><circle cx="59.7" cy="158.2" r="1.6"/><circle cx="61.3" cy="155.8" r="1.6"/><circle cx="62.9" cy="156.2" r="1.6"/><circle cx="64.5" cy="158.0" r="1.6"/><circle cx="66.1" cy="158.7" r="1.6"/><circle cx="67.7" cy="157.3" r="1.6"/><circle cx="69.3" cy="157.3" r="1.6"/><circle cx="70.9" cy="158.9" r="1.6"/><circle cx="72.5" cy="155.1" r="1.6"/><circle cx="74.1" cy="153.8" r="1.6"/><circle cx="75.7" cy="157.2" r="1.6"/><circle cx="77.3" cy="155.0" r="1.6"/><circle cx="78.9" cy="151.9" r="1.6"/><circle cx="80.5" cy="153.9" r="1.6"/><circle cx="82.1" cy="154.4" r="1.6"/><circle cx="83.7" cy="153.8" r="1.6"/><circle cx="85.3" cy="153.1" r="1.6"/><circle cx="86.9" cy="156.4" r="1.6"/><circle cx="88.5" cy="158.9" r="1.6"/><circle cx="90.1" cy="156.0" r="1.6"/><circle cx="91.7" cy="154.1" r="1.6"/><circle cx="93.3" cy="156.1" r="1.6"/><circle cx="94.9" cy="156.0" r="1.6"/><circle cx="96.5" cy="153.4" r="1.6"/><circle cx="98.1" cy="154.9" r="1.6"/><circle cx="99.7" cy="155.7" r="1.6"/><circle cx="101.3" cy="152.1" r="1.6"/><circle cx="102.9" cy="151.0" r="1.6"/><circle cx="104.5" cy="152.9" r="1.6"/><circle cx="106.1" cy="153.3" r="1.6"/><circle cx="107.7" cy="155.9" r="1.6"/><circle cx="109.3" cy="151.0" r="1.6"/><circle cx="110.9" cy="153.2" r="1.6"/><circle cx="112.5" cy="152.9" r="1.6"/><circle cx="114.1" cy="149.6" r="1.6"/><circle cx="115.7" cy="152.8" r="1.6"/><circle cx="117.3" cy="153.6" r="1.6"/><circle cx="118.9" cy="149.9" r="1.6"/><circle cx="120.5" cy="154.4" r="1.6"/><circle cx="122.1" cy="153.8" r="1.6"/><circle cx="123.7" cy="152.5" r="1.6"/><circle cx="125.3" cy="150.8" r="1.6"/><circle cx="126.9" cy="151.6" r="1.6"/><circle cx="128.5" cy="145.8" r="1.6"/><circle cx="130.1" cy="149.1" r="1.6"/><circle cx="131.7" cy="149.1" r="1.6"/><circle cx="133.3" cy="144.4" r="1.6"/><circle cx="134.9" cy="148.0" r="1.6"/><circle cx="136.5" cy="146.1" r="1.6"/><circle cx="138.1" cy="147.7" r="1.6"/><circle cx="139.7" cy="143.6" r="1.6"/><circle cx="141.3" cy="142.7" r="1.6"/><circle cx="142.9" cy="141.8" r="1.6"/><circle cx="144.5" cy="137.2" r="1.6"/><circle cx="146.1" cy="138.8" r="1.6"/><circle cx="147.7" cy="135.0" r="1.6"/><circle cx="149.3" cy="133.2" r="1.6"/><circle cx="150.9" cy="129.1" r="1.6"/><circle cx="152.5" cy="130.8" r="1.6"/><circle cx="154.1" cy="127.4" r="1.6"/><circle cx="155.7" cy="124.0" r="1.6"/><circle cx="157.3" cy="126.2" r="1.6"/><circle cx="158.9" cy="126.7" r="1.6"/><circle cx="160.5" cy="127.7" r="1.6"/><circle cx="162.1" cy="120.3" r="1.6"/><circle cx="163.7" cy="125.4" r="1.6"/><circle cx="165.3" cy="124.0" r="1.6"/><circle cx="166.9" cy="122.6" r="1.6"/><circle cx="168.5" cy="118.6" r="1.6"/><circle cx="170.1" cy="122.0" r="1.6"/><circle cx="171.7" cy="114.3" r="1.6"/><circle cx="173.3" cy="114.1" r="1.6"/><circle cx="174.9" cy="111.5" r="1.6"/><circle cx="176.5" cy="101.1" r="1.6"/><circle cx="178.1" cy="98.6" r="1.6"/><circle cx="179.7" cy="90.3" r="1.6"/><circle cx="181.3" cy="87.1" r="1.6"/><circle cx="182.9" cy="81.9" r="1.6"/><circle cx="184.5" cy="73.4" r="1.6"/><circle cx="186.1" cy="55.0" r="1.6"/><circle cx="187.7" cy="46.9" r="1.6"/><circle cx="189.3" cy="39.5" r="1.6"/><circle cx="190.9" cy="32.3" r="1.6"/><circle cx="192.5" cy="22.7" r="1.6"/><circle cx="194.1" cy="15.9" r="1.6"/><circle cx="195.7" cy="19.4" r="1.6"/><circle cx="197.3" cy="23.3" r="1.6"/><circle cx="198.9" cy="30.6" r="1.6"/><circle cx="200.5" cy="40.1" r="1.6"/><circle cx="202.1" cy="53.9" r="1.6"/><circle cx="203.7" cy="64.4" r="1.6"/><circle cx="205.3" cy="73.8" r="1.6"/><circle cx="206.9" cy="83.4" r="1.6"/><circle cx="208.5" cy="88.9" r="1.6"/><circle cx="210.1" cy="99.0" r="1.6"/><circle cx="211.7" cy="109.0" r="1.6"/><circle cx="213.3" cy="111.3" r="1.6"/><circle cx="214.9" cy="113.3" r="1.6"/><circle cx="216.5" cy="124.1" r="1.6"/><circle cx="218.1" cy="125.6" r="1.6"/><circle cx="219.7" cy="132.0" r="1.6"/><circle cx="221.3" cy="131.1" r="1.6"/><circle cx="222.9" cy="133.9" r="1.6"/><circle cx="224.5" cy="133.5" r="1.6"/><circle cx="226.1" cy="141.6" r="1.6"/><circle cx="227.7" cy="145.7" r="1.6"/><circle cx="229.3" cy="140.3" r="1.6"/><circle cx="230.9" cy="139.8" r="1.6"/><circle cx="232.5" cy="143.7" r="1.6"/><circle cx="234.1" cy="141.7" r="1.6"/><circle cx="235.7" cy="144.0" r="1.6"/><circle cx="237.3" cy="145.3" r="1.6"/><circle cx="238.9" cy="147.7" r="1.6"/><circle cx="240.5" cy="150.9" r="1.6"/><circle cx="242.1" cy="150.2" r="1.6"/><circle cx="243.7" cy="152.5" r="1.6"/><circle cx="245.3" cy="149.0" r="1.6"/><circle cx="246.9" cy="151.4" r="1.6"/><circle cx="248.5" cy="146.4" r="1.6"/><circle cx="250.1" cy="147.5" r="1.6"/><circle cx="251.7" cy="153.2" r="1.6"/><circle cx="253.3" cy="150.5" r="1.6"/><circle cx="254.9" cy="153.5" r="1.6"/><circle cx="256.5" cy="154.8" r="1.6"/><circle cx="258.1" cy="157.0" r="1.6"/><circle cx="259.7" cy="155.0" r="1.6"/><circle cx="261.3" cy="155.9" r="1.6"/><circle cx="262.9" cy="153.2" r="1.6"/><circle cx="264.5" cy="151.3" r="1.6"/><circle cx="266.1" cy="150.9" r="1.6"/><circle cx="267.7" cy="153.5" r="1.6"/><circle cx="269.3" cy="152.7" r="1.6"/><circle cx="270.9" cy="154.9" r="1.6"/><circle cx="272.5" cy="155.9" r="1.6"/><circle cx="274.1" cy="156.8" r="1.6"/><circle cx="275.7" cy="155.0" r="1.6"/><circle cx="277.3" cy="151.8" r="1.6"/><circle cx="278.9" cy="155.9" r="1.6"/><circle cx="280.5" cy="156.4" r="1.6"/><circle cx="282.1" cy="159.0" r="1.6"/><circle cx="283.7" cy="157.9" r="1.6"/><circle cx="285.3" cy="154.8" r="1.6"/><circle cx="286.9" cy="154.1" r="1.6"/><circle cx="288.5" cy="160.2" r="1.6"/><circle cx="290.1" cy="156.7" r="1.6"/><circle cx="291.7" cy="158.0" r="1.6"/><circle cx="293.3" cy="159.1" r="1.6"/><circle cx="294.9" cy="153.3" r="1.6"/><circle cx="296.5" cy="156.1" r="1.6"/><circle cx="298.1" cy="157.1" r="1.6"/><circle cx="299.7" cy="158.6" r="1.6"/><circle cx="301.3" cy="158.4" r="1.6"/><circle cx="302.9" cy="156.5" r="1.6"/><circle cx="304.5" cy="156.5" r="1.6"/><circle cx="306.1" cy="152.6" r="1.6"/><circle cx="307.7" cy="156.1" r="1.6"/><circle cx="309.3" cy="155.5" r="1.6"/><circle cx="310.9" cy="159.0" r="1.6"/><circle cx="312.5" cy="157.4" r="1.6"/><circle cx="314.1" cy="158.7" r="1.6"/><circle cx="315.7" cy="158.8" r="1.6"/><circle cx="317.3" cy="157.0" r="1.6"/><circle cx="318.9" cy="156.8" r="1.6"/><circle cx="320.5" cy="156.8" r="1.6"/><circle cx="322.1" cy="156.6" r="1.6"/><circle cx="323.7" cy="156.5" r="1.6"/><circle cx="325.3" cy="155.9" r="1.6"/><circle cx="326.9" cy="157.3" r="1.6"/><circle cx="328.5" cy="156.7" r="1.6"/><circle cx="330.1" cy="158.1" r="1.6"/><circle cx="331.7" cy="154.5" r="1.6"/><circle cx="333.3" cy="159.4" r="1.6"/><circle cx="334.9" cy="155.9" r="1.6"/><circle cx="336.5" cy="156.2" r="1.6"/><circle cx="42.5" cy="227.6" r="1.6"/><circle cx="44.1" cy="227.7" r="1.6"/><circle cx="45.7" cy="232.7" r="1.6"/><circle cx="47.3" cy="228.5" r="1.6"/><circle cx="48.9" cy="230.8" r="1.6"/><circle cx="50.5" cy="230.1" r="1.6"/><circle cx="52.1" cy="229.1" r="1.6"/><circle cx="53.7" cy="229.0" r="1.6"/><circle cx="55.3" cy="231.5" r="1.6"/><circle cx="56.9" cy="232.2" r="1.6"/><circle cx="58.5" cy="232.4" r="1.6"/><circle cx="60.1" cy="227.5" r="1.6"/><circle cx="61.7" cy="228.6" r="1.6"/><circle cx="63.3" cy="229.4" r="1.6"/><circle cx="64.9" cy="232.5" r="1.6"/><circle cx="66.5" cy="224.9" r="1.6"/><circle cx="68.1" cy="231.2" r="1.6"/><circle cx="69.7" cy="228.5" r="1.6"/><circle cx="71.3" cy="230.6" r="1.6"/><circle cx="72.9" cy="229.6" r="1.6"/><circle cx="74.5" cy="230.6" r="1.6"/><circle cx="76.1" cy="233.3" r="1.6"/><circle cx="77.7" cy="230.7" r="1.6"/><circle cx="79.3" cy="230.6" r="1.6"/><circle cx="80.9" cy="229.0" r="1.6"/><circle cx="82.5" cy="227.0" r="1.6"/><circle cx="84.1" cy="228.6" r="1.6"/><circle cx="85.7" cy="226.6" r="1.6"/><circle cx="87.3" cy="225.2" r="1.6"/><circle cx="88.9" cy="228.4" r="1.6"/><circle cx="90.5" cy="227.4" r="1.6"/><circle cx="92.1" cy="230.5" r="1.6"/><circle cx="93.7" cy="229.8" r="1.6"/><circle cx="95.3" cy="228.3" r="1.6"/><circle cx="96.9" cy="231.9" r="1.6"/><circle cx="98.5" cy="231.6" r="1.6"/><circle cx="100.1" cy="231.2" r="1.6"/><circle cx="101.7" cy="229.8" r="1.6"/><circle cx="103.3" cy="228.3" r="1.6"/><circle cx="104.9" cy="226.6" r="1.6"/><circle cx="106.5" cy="226.8" r="1.6"/><circle cx="108.1" cy="230.5" r="1.6"/><circle cx="109.7" cy="227.9" r="1.6"/><circle cx="111.3" cy="224.7" r="1.6"/><circle cx="112.9" cy="228.2" r="1.6"/><circle cx="114.5" cy="224.2" r="1.6"/><circle cx="116.1" cy="227.2" r="1.6"/><circle cx="117.7" cy="224.4" r="1.6"/><circle cx="119.3" cy="223.4" r="1.6"/><circle cx="120.9" cy="226.6" r="1.6"/><circle cx="122.5" cy="226.4" r="1.6"/><circle cx="124.1" cy="222.2" r="1.6"/><circle cx="125.7" cy="226.4" r="1.6"/><circle cx="127.3" cy="228.3" r="1.6"/><circle cx="128.9" cy="219.5" r="1.6"/><circle cx="130.5" cy="225.3" r="1.6"/><circle cx="132.1" cy="218.7" r="1.6"/><circle cx="133.7" cy="218.5" r="1.6"/><circle cx="135.3" cy="218.9" r="1.6"/><circle cx="136.9" cy="214.2" r="1.6"/><circle cx="138.5" cy="220.2" r="1.6"/><circle cx="140.1" cy="216.7" r="1.6"/><circle cx="141.7" cy="213.0" r="1.6"/><circle cx="143.3" cy="212.5" r="1.6"/><circle cx="144.9" cy="209.0" r="1.6"/><circle cx="146.5" cy="208.5" r="1.6"/><circle cx="148.1" cy="209.8" r="1.6"/><circle cx="149.7" cy="201.9" r="1.6"/><circle cx="151.3" cy="203.1" r="1.6"/><circle cx="152.9" cy="202.3" r="1.6"/><circle cx="154.5" cy="203.2" r="1.6"/><circle cx="156.1" cy="202.9" r="1.6"/><circle cx="157.7" cy="198.4" r="1.6"/><circle cx="159.3" cy="197.6" r="1.6"/><circle cx="160.9" cy="200.0" r="1.6"/><circle cx="162.5" cy="198.0" r="1.6"/><circle cx="164.1" cy="197.5" r="1.6"/><circle cx="165.7" cy="200.0" r="1.6"/><circle cx="167.3" cy="200.7" r="1.6"/><circle cx="168.9" cy="195.5" r="1.6"/><circle cx="170.5" cy="192.4" r="1.6"/><circle cx="172.1" cy="191.7" r="1.6"/><circle cx="173.7" cy="181.7" r="1.6"/><circle cx="175.3" cy="180.0" r="1.6"/><circle cx="176.9" cy="172.4" r="1.6"/><circle cx="178.5" cy="173.8" r="1.6"/><circle cx="180.1" cy="164.0" r="1.6"/><circle cx="181.7" cy="156.2" r="1.6"/><circle cx="183.3" cy="148.1" r="1.6"/><circle cx="184.9" cy="134.4" r="1.6"/><circle cx="186.5" cy="130.1" r="1.6"/><circle cx="188.1" cy="119.8" r="1.6"/><circle cx="189.7" cy="104.8" r="1.6"/><circle cx="191.3" cy="98.4" r="1.6"/><circle cx="192.9" cy="90.9" r="1.6"/><circle cx="194.5" cy="83.1" r="1.6"/><circle cx="196.1" cy="88.0" r="1.6"/><circle cx="197.7" cy="91.8" r="1.6"/><circle cx="199.3" cy="96.1" r="1.6"/><circle cx="200.9" cy="104.5" r="1.6"/><circle cx="202.5" cy="115.8" r="1.6"/><circle cx="204.1" cy="122.6" r="1.6"/><circle cx="205.7" cy="136.1" r="1.6"/><circle cx="207.3" cy="148.1" r="1.6"/><circle cx="208.9" cy="152.2" r="1.6"/><circle cx="210.5" cy="166.2" r="1.6"/><circle cx="212.1" cy="170.2" r="1.6"/><circle cx="213.7" cy="173.3" r="1.6"/><circle cx="215.3" cy="182.6" r="1.6"/><circle cx="216.9" cy="186.2" r="1.6"/><circle cx="218.5" cy="192.3" r="1.6"/><circle cx="220.1" cy="192.6" r="1.6"/><circle cx="221.7" cy="200.8" r="1.6"/><circle cx="223.3" cy="200.4" r="1.6"/><circle cx="224.9" cy="204.8" r="1.6"/><circle cx="226.5" cy="206.4" r="1.6"/><circle cx="228.1" cy="209.0" r="1.6"/><circle cx="229.7" cy="213.8" r="1.6"/><circle cx="231.3" cy="213.5" r="1.6"/><circle cx="232.9" cy="214.7" r="1.6"/><circle cx="234.5" cy="213.4" r="1.6"/><circle cx="236.1" cy="219.6" r="1.6"/><circle cx="237.7" cy="220.1" r="1.6"/><circle cx="239.3" cy="217.9" r="1.6"/><circle cx="240.9" cy="219.2" r="1.6"/><circle cx="242.5" cy="217.9" r="1.6"/><circle cx="244.1" cy="219.2" r="1.6"/><circle cx="245.7" cy="220.3" r="1.6"/><circle cx="247.3" cy="223.9" r="1.6"/><circle cx="248.9" cy="224.4" r="1.6"/><circle cx="250.5" cy="222.3" r="1.6"/><circle cx="252.1" cy="226.2" r="1.6"/><circle cx="253.7" cy="226.6" r="1.6"/><circle cx="255.3" cy="225.5" r="1.6"/><circle cx="256.9" cy="228.8" r="1.6"/><circle cx="258.5" cy="226.1" r="1.6"/><circle cx="260.1" cy="226.3" r="1.6"/><circle cx="261.7" cy="228.9" r="1.6"/><circle cx="263.3" cy="228.0" r="1.6"/><circle cx="264.9" cy="228.7" r="1.6"/><circle cx="266.5" cy="224.5" r="1.6"/><circle cx="268.1" cy="230.4" r="1.6"/><circle cx="269.7" cy="224.7" r="1.6"/><circle cx="271.3" cy="226.4" r="1.6"/><circle cx="272.9" cy="224.3" r="1.6"/><circle cx="274.5" cy="228.2" r="1.6"/><circle cx="276.1" cy="230.0" r="1.6"/><circle cx="277.7" cy="229.7" r="1.6"/><circle cx="279.3" cy="229.7" r="1.6"/><circle cx="280.9" cy="224.3" r="1.6"/><circle cx="282.5" cy="226.2" r="1.6"/><circle cx="284.1" cy="228.1" r="1.6"/><circle cx="285.7" cy="227.2" r="1.6"/><circle cx="287.3" cy="232.0" r="1.6"/><circle cx="288.9" cy="230.8" r="1.6"/><circle cx="290.5" cy="230.6" r="1.6"/><circle cx="292.1" cy="230.5" r="1.6"/><circle cx="293.7" cy="227.8" r="1.6"/><circle cx="295.3" cy="227.7" r="1.6"/><circle cx="296.9" cy="227.7" r="1.6"/><circle cx="298.5" cy="230.9" r="1.6"/><circle cx="300.1" cy="231.7" r="1.6"/><circle cx="301.7" cy="232.6" r="1.6"/><circle cx="303.3" cy="233.1" r="1.6"/><circle cx="304.9" cy="228.0" r="1.6"/><circle cx="306.5" cy="229.9" r="1.6"/><circle cx="308.1" cy="230.8" r="1.6"/><circle cx="309.7" cy="226.9" r="1.6"/><circle cx="311.3" cy="229.9" r="1.6"/><circle cx="312.9" cy="233.2" r="1.6"/><circle cx="314.5" cy="232.6" r="1.6"/><circle cx="316.1" cy="232.9" r="1.6"/><circle cx="317.7" cy="230.7" r="1.6"/><circle cx="319.3" cy="229.4" r="1.6"/><circle cx="320.9" cy="231.7" r="1.6"/><circle cx="322.5" cy="228.7" r="1.6"/><circle cx="324.1" cy="230.6" r="1.6"/><circle cx="325.7" cy="232.5" r="1.6"/><circle cx="327.3" cy="228.7" r="1.6"/><circle cx="328.9" cy="228.2" r="1.6"/><circle cx="330.5" cy="229.8" r="1.6"/><circle cx="332.1" cy="231.2" r="1.6"/><circle cx="333.7" cy="231.5" r="1.6"/><circle cx="335.3" cy="230.7" r="1.6"/><circle cx="336.9" cy="231.4" r="1.6"/></g>
<g><path d="M41.5,157.3 L41.9,157.3 L42.3,157.3 L42.8,157.3 L43.2,157.3 L43.6,157.3 L44.0,157.3 L44.5,157.3 L44.9,157.3 L45.3,157.3 L45.7,157.3 L46.2,157.3 L46.6,157.2 L47.0,157.2 L47.4,157.2 L47.8,157.2 L48.3,157.2 L48.7,157.2 L49.1,157.2 L49.5,157.2 L50.0,157.2 L50.4,157.2 L50.8,157.2 L51.2,157.2 L51.6,157.1 L52.1,157.1 L52.5,157.1 L52.9,157.1 L53.3,157.1 L53.8,157.1 L54.2,157.1 L54.6,157.1 L55.0,157.1 L55.5,157.1 L55.9,157.1 L56.3,157.1 L56.7,157.0 L57.1,157.0 L57.6,157.0 L58.0,157.0 L58.4,157.0 L58.8,157.0 L59.3,157.0 L59.7,157.0 L60.1,157.0 L60.5,157.0 L60.9,156.9 L61.4,156.9 L61.8,156.9 L62.2,156.9 L62.6,156.9 L63.1,156.9 L63.5,156.9 L63.9,156.9 L64.3,156.9 L64.8,156.8 L65.2,156.8 L65.6,156.8 L66.0,156.8 L66.4,156.8 L66.9,156.8 L67.3,156.8 L67.7,156.8 L68.1,156.8 L68.6,156.7 L69.0,156.7 L69.4,156.7 L69.8,156.7 L70.2,156.7 L70.7,156.7 L71.1,156.7 L71.5,156.6 L71.9,156.6 L72.4,156.6 L72.8,156.6 L73.2,156.6 L73.6,156.6 L74.1,156.6 L74.5,156.5 L74.9,156.5 L75.3,156.5 L75.7,156.5 L76.2,156.5 L76.6,156.5 L77.0,156.5 L77.4,156.4 L77.9,156.4 L78.3,156.4 L78.7,156.4 L79.1,156.4 L79.5,156.4 L80.0,156.3 L80.4,156.3 L80.8,156.3 L81.2,156.3 L81.7,156.3 L82.1,156.3 L82.5,156.2 L82.9,156.2 L83.4,156.2 L83.8,156.2 L84.2,156.2 L84.6,156.1 L85.0,156.1 L85.5,156.1 L85.9,156.1 L86.3,156.1 L86.7,156.0 L87.2,156.0 L87.6,156.0 L88.0,156.0 L88.4,155.9 L88.8,155.9 L89.3,155.9 L89.7,155.9 L90.1,155.9 L90.5,155.8 L91.0,155.8 L91.4,155.8 L91.8,155.8 L92.2,155.7 L92.7,155.7 L93.1,155.7 L93.5,155.6 L93.9,155.6 L94.3,155.6 L94.8,155.6 L95.2,155.5 L95.6,155.5 L96.0,155.5 L96.5,155.4 L96.9,155.4 L97.3,155.4 L97.7,155.4 L98.1,155.3 L98.6,155.3 L99.0,155.3 L99.4,155.2 L99.8,155.2 L100.3,155.2 L100.7,155.1 L101.1,155.1 L101.5,155.1 L102.0,155.0 L102.4,155.0 L102.8,154.9 L103.2,154.9 L103.6,154.9 L104.1,154.8 L104.5,154.8 L104.9,154.7 L105.3,154.7 L105.8,154.7 L106.2,154.6 L106.6,154.6 L107.0,154.5 L107.4,154.5 L107.9,154.4 L108.3,154.4 L108.7,154.3 L109.1,154.3 L109.6,154.2 L110.0,154.2 L110.4,154.1 L110.8,154.1 L111.3,154.0 L111.7,154.0 L112.1,153.9 L112.5,153.8 L112.9,153.8 L113.4,153.7 L113.8,153.7 L114.2,153.6 L114.6,153.5 L115.1,153.5 L115.5,153.4 L115.9,153.3 L116.3,153.3 L116.7,153.2 L117.2,153.1 L117.6,153.0 L118.0,153.0 L118.4,152.9 L118.9,152.8 L119.3,152.7 L119.7,152.6 L120.1,152.5 L120.6,152.5 L121.0,152.4 L121.4,152.3 L121.8,152.2 L122.2,152.1 L122.7,152.0 L123.1,151.9 L123.5,151.8 L123.9,151.6 L124.4,151.5 L124.8,151.4 L125.2,151.3 L125.6,151.2 L126.0,151.1 L126.5,150.9 L126.9,150.8 L127.3,150.7 L127.7,150.5 L128.2,150.4 L128.6,150.2 L129.0,150.1 L129.4,149.9 L129.9,149.7 L130.3,149.6 L130.7,149.4 L131.1,149.2 L131.5,149.0 L132.0,148.9 L132.4,148.7 L132.8,148.5 L133.2,148.2 L133.7,148.0 L134.1,147.8 L134.5,147.6 L134.9,147.3 L135.3,147.1 L135.8,146.8 L136.2,146.6 L136.6,146.3 L137.0,146.0 L137.5,145.7 L137.9,145.4 L138.3,145.1 L138.7,144.8 L139.2,144.4 L139.6,144.1 L140.0,143.7 L140.4,143.3 L140.8,142.9 L141.3,142.5 L141.7,142.1 L142.1,141.7 L142.5,141.2 L143.0,140.8 L143.4,140.3 L143.8,139.8 L144.2,139.3 L144.7,138.8 L145.1,138.3 L145.5,137.7 L145.9,137.2 L146.3,136.6 L146.8,136.0 L147.2,135.4 L147.6,134.8 L148.0,134.2 L148.5,133.6 L148.9,133.0 L149.3,132.4 L149.7,131.8 L150.1,131.2 L150.6,130.6 L151.0,130.0 L151.4,129.5 L151.8,128.9 L152.3,128.4 L152.7,127.9 L153.1,127.5 L153.5,127.1 L154.0,126.7 L154.4,126.4 L154.8,126.1 L155.2,125.9 L155.6,125.7 L156.1,125.5 L156.5,125.4 L156.9,125.3 L157.3,125.2 L157.8,125.2 L158.2,125.2 L158.6,125.2 L159.0,125.3 L159.4,125.4 L159.9,125.4 L160.3,125.5 L160.7,125.6 L161.1,125.7 L161.6,125.8 L162.0,125.8 L162.4,125.9 L162.8,125.9 L163.3,125.9 L163.7,126.0 L164.1,125.9 L164.5,125.9 L164.9,125.8 L165.4,125.7 L165.8,125.6 L166.2,125.4 L166.6,125.3 L167.1,125.0 L167.5,124.8 L167.9,124.5 L168.3,124.2 L168.7,123.8 L169.2,123.4 L169.6,123.0 L170.0,122.5 L170.4,122.0 L170.9,121.5 L171.3,120.9 L171.7,120.2 L172.1,119.6 L172.6,118.8 L173.0,118.1 L173.4,117.2 L173.8,116.4 L174.2,115.5 L174.7,114.5 L175.1,113.5 L175.5,112.4 L175.9,111.2 L176.4,110.0 L176.8,108.8 L177.2,107.5 L177.6,106.1 L178.0,104.6 L178.5,103.1 L178.9,101.5 L179.3,99.8 L179.7,98.1 L180.2,96.3 L180.6,94.4 L181.0,92.4 L181.4,90.3 L181.9,88.2 L182.3,85.9 L182.7,83.6 L183.1,81.2 L183.5,78.7 L184.0,76.2 L184.4,73.5 L184.8,70.8 L185.2,68.0 L185.7,65.2 L186.1,62.2 L186.5,59.3 L186.9,56.3 L187.3,53.3 L187.8,50.2 L188.2,47.2 L188.6,44.2 L189.0,41.3 L189.5,38.4 L189.9,35.6 L190.3,32.9 L190.7,30.4 L191.2,28.0 L191.6,25.8 L192.0,23.8 L192.4,22.1 L192.8,20.6 L193.3,19.4 L193.7,18.5 L194.1,17.9 L194.5,17.6 L195.0,17.7 L195.4,18.1 L195.8,18.8 L196.2,19.9 L196.6,21.3 L197.1,22.9 L197.5,24.9 L197.9,27.1 L198.3,29.5 L198.8,32.1 L199.2,34.8 L199.6,37.7 L200.0,40.7 L200.5,43.8 L200.9,47.0 L201.3,50.2 L201.7,53.4 L202.1,56.6 L202.6,59.7 L203.0,62.9 L203.4,66.0 L203.8,69.0 L204.3,72.0 L204.7,74.9 L205.1,77.7 L205.5,80.5 L205.9,83.1 L206.4,85.7 L206.8,88.2 L207.2,90.6 L207.6,93.0 L208.1,95.2 L208.5,97.3 L208.9,99.4 L209.3,101.4 L209.8,103.3 L210.2,105.2 L210.6,106.9 L211.0,108.6 L211.4,110.2 L211.9,111.8 L212.3,113.3 L212.7,114.7 L213.1,116.1 L213.6,117.4 L214.0,118.7 L214.4,119.9 L214.8,121.1 L215.2,122.2 L215.7,123.3 L216.1,124.3 L216.5,125.3 L216.9,126.3 L217.4,127.2 L217.8,128.1 L218.2,128.9 L218.6,129.7 L219.1,130.5 L219.5,131.3 L219.9,132.0 L220.3,132.7 L220.7,133.4 L221.2,134.0 L221.6,134.6 L222.0,135.3 L222.4,135.8 L222.9,136.4 L223.3,136.9 L223.7,137.5 L224.1,138.0 L224.5,138.5 L225.0,138.9 L225.4,139.4 L225.8,139.8 L226.2,140.3 L226.7,140.7 L227.1,141.1 L227.5,141.5 L227.9,141.8 L228.4,142.2 L228.8,142.5 L229.2,142.9 L229.6,143.2 L230.0,143.5 L230.5,143.8 L230.9,144.1 L231.3,144.4 L231.7,144.7 L232.2,145.0 L232.6,145.3 L233.0,145.5 L233.4,145.8 L233.8,146.0 L234.3,146.3 L234.7,146.5 L235.1,146.7 L235.5,146.9 L236.0,147.1 L236.4,147.3 L236.8,147.6 L237.2,147.7 L237.7,147.9 L238.1,148.1 L238.5,148.3 L238.9,148.5 L239.3,148.7 L239.8,148.8 L240.2,149.0 L240.6,149.1 L241.0,149.3 L241.5,149.5 L241.9,149.6 L242.3,149.7 L242.7,149.9 L243.2,150.0 L243.6,150.2 L244.0,150.3 L244.4,150.4 L244.8,150.5 L245.3,150.7 L245.7,150.8 L246.1,150.9 L246.5,151.0 L247.0,151.1 L247.4,151.2 L247.8,151.3 L248.2,151.5 L248.6,151.6 L249.1,151.7 L249.5,151.8 L249.9,151.8 L250.3,151.9 L250.8,152.0 L251.2,152.1 L251.6,152.2 L252.0,152.3 L252.5,152.4 L252.9,152.5 L253.3,152.5 L253.7,152.6 L254.1,152.7 L254.6,152.8 L255.0,152.9 L255.4,152.9 L255.8,153.0 L256.3,153.1 L256.7,153.1 L257.1,153.2 L257.5,153.3 L257.9,153.3 L258.4,153.4 L258.8,153.5 L259.2,153.5 L259.6,153.6 L260.1,153.6 L260.5,153.7 L260.9,153.8 L261.3,153.8 L261.8,153.9 L262.2,153.9 L262.6,154.0 L263.0,154.0 L263.4,154.1 L263.9,154.1 L264.3,154.2 L264.7,154.2 L265.1,154.3 L265.6,154.3 L266.0,154.4 L266.4,154.4 L266.8,154.5 L267.2,154.5 L267.7,154.6 L268.1,154.6 L268.5,154.6 L268.9,154.7 L269.4,154.7 L269.8,154.8 L270.2,154.8 L270.6,154.8 L271.1,154.9 L271.5,154.9 L271.9,155.0 L272.3,155.0 L272.7,155.0 L273.2,155.1 L273.6,155.1 L274.0,155.1 L274.4,155.2 L274.9,155.2 L275.3,155.2 L275.7,155.3 L276.1,155.3 L276.5,155.3 L277.0,155.4 L277.4,155.4 L277.8,155.4 L278.2,155.4 L278.7,155.5 L279.1,155.5 L279.5,155.5 L279.9,155.6 L280.4,155.6 L280.8,155.6 L281.2,155.6 L281.6,155.7 L282.0,155.7 L282.5,155.7 L282.9,155.7 L283.3,155.8 L283.7,155.8 L284.2,155.8 L284.6,155.8 L285.0,155.9 L285.4,155.9 L285.8,155.9 L286.3,155.9 L286.7,156.0 L287.1,156.0 L287.5,156.0 L288.0,156.0 L288.4,156.0 L288.8,156.1 L289.2,156.1 L289.7,156.1 L290.1,156.1 L290.5,156.1 L290.9,156.2 L291.3,156.2 L291.8,156.2 L292.2,156.2 L292.6,156.2 L293.0,156.3 L293.5,156.3 L293.9,156.3 L294.3,156.3 L294.7,156.3 L295.1,156.3 L295.6,156.4 L296.0,156.4 L296.4,156.4 L296.8,156.4 L297.3,156.4 L297.7,156.4 L298.1,156.5 L298.5,156.5 L299.0,156.5 L299.4,156.5 L299.8,156.5 L300.2,156.5 L300.6,156.6 L301.1,156.6 L301.5,156.6 L301.9,156.6 L302.3,156.6 L302.8,156.6 L303.2,156.6 L303.6,156.7 L304.0,156.7 L304.4,156.7 L304.9,156.7 L305.3,156.7 L305.7,156.7 L306.1,156.7 L306.6,156.7 L307.0,156.8 L307.4,156.8 L307.8,156.8 L308.3,156.8 L308.7,156.8 L309.1,156.8 L309.5,156.8 L309.9,156.8 L310.4,156.9 L310.8,156.9 L311.2,156.9 L311.6,156.9 L312.1,156.9 L312.5,156.9 L312.9,156.9 L313.3,156.9 L313.7,156.9 L314.2,157.0 L314.6,157.0 L315.0,157.0 L315.4,157.0 L315.9,157.0 L316.3,157.0 L316.7,157.0 L317.1,157.0 L317.6,157.0 L318.0,157.0 L318.4,157.0 L318.8,157.1 L319.2,157.1 L319.7,157.1 L320.1,157.1 L320.5,157.1 L320.9,157.1 L321.4,157.1 L321.8,157.1 L322.2,157.1 L322.6,157.1 L323.0,157.1 L323.5,157.2 L323.9,157.2 L324.3,157.2 L324.7,157.2 L325.2,157.2 L325.6,157.2 L326.0,157.2 L326.4,157.2 L326.9,157.2 L327.3,157.2 L327.7,157.2 L328.1,157.2 L328.5,157.3 L329.0,157.3 L329.4,157.3 L329.8,157.3 L330.2,157.3 L330.7,157.3 L331.1,157.3 L331.5,157.3 L331.9,157.3 L332.3,157.3 L332.8,157.3 L333.2,157.3 L333.6,157.3 L334.0,157.3 L334.5,157.3 L334.9,157.4 L335.3,157.4 L335.7,157.4 L336.2,157.4 L336.6,157.4 L337.0,157.4" class="tot"/><path d="M41.5,230.8 L41.9,230.8 L42.3,230.8 L42.8,230.8 L43.2,230.8 L43.6,230.8 L44.0,230.8 L44.5,230.8 L44.9,230.8 L45.3,230.8 L45.7,230.8 L46.2,230.8 L46.6,230.8 L47.0,230.7 L47.4,230.7 L47.8,230.7 L48.3,230.7 L48.7,230.7 L49.1,230.7 L49.5,230.7 L50.0,230.7 L50.4,230.7 L50.8,230.7 L51.2,230.7 L51.6,230.6 L52.1,230.6 L52.5,230.6 L52.9,230.6 L53.3,230.6 L53.8,230.6 L54.2,230.6 L54.6,230.6 L55.0,230.6 L55.5,230.6 L55.9,230.6 L56.3,230.5 L56.7,230.5 L57.1,230.5 L57.6,230.5 L58.0,230.5 L58.4,230.5 L58.8,230.5 L59.3,230.5 L59.7,230.5 L60.1,230.4 L60.5,230.4 L60.9,230.4 L61.4,230.4 L61.8,230.4 L62.2,230.4 L62.6,230.4 L63.1,230.4 L63.5,230.4 L63.9,230.3 L64.3,230.3 L64.8,230.3 L65.2,230.3 L65.6,230.3 L66.0,230.3 L66.4,230.3 L66.9,230.2 L67.3,230.2 L67.7,230.2 L68.1,230.2 L68.6,230.2 L69.0,230.2 L69.4,230.2 L69.8,230.2 L70.2,230.1 L70.7,230.1 L71.1,230.1 L71.5,230.1 L71.9,230.1 L72.4,230.1 L72.8,230.0 L73.2,230.0 L73.6,230.0 L74.1,230.0 L74.5,230.0 L74.9,230.0 L75.3,230.0 L75.7,229.9 L76.2,229.9 L76.6,229.9 L77.0,229.9 L77.4,229.9 L77.9,229.8 L78.3,229.8 L78.7,229.8 L79.1,229.8 L79.5,229.8 L80.0,229.8 L80.4,229.7 L80.8,229.7 L81.2,229.7 L81.7,229.7 L82.1,229.7 L82.5,229.6 L82.9,229.6 L83.4,229.6 L83.8,229.6 L84.2,229.6 L84.6,229.5 L85.0,229.5 L85.5,229.5 L85.9,229.5 L86.3,229.4 L86.7,229.4 L87.2,229.4 L87.6,229.4 L88.0,229.4 L88.4,229.3 L88.8,229.3 L89.3,229.3 L89.7,229.3 L90.1,229.2 L90.5,229.2 L91.0,229.2 L91.4,229.1 L91.8,229.1 L92.2,229.1 L92.7,229.1 L93.1,229.0 L93.5,229.0 L93.9,229.0 L94.3,229.0 L94.8,228.9 L95.2,228.9 L95.6,228.9 L96.0,228.8 L96.5,228.8 L96.9,228.8 L97.3,228.7 L97.7,228.7 L98.1,228.7 L98.6,228.6 L99.0,228.6 L99.4,228.6 L99.8,228.5 L100.3,228.5 L100.7,228.5 L101.1,228.4 L101.5,228.4 L102.0,228.3 L102.4,228.3 L102.8,228.3 L103.2,228.2 L103.6,228.2 L104.1,228.1 L104.5,228.1 L104.9,228.0 L105.3,228.0 L105.8,228.0 L106.2,227.9 L106.6,227.9 L107.0,227.8 L107.4,227.8 L107.9,227.7 L108.3,227.7 L108.7,227.6 L109.1,227.6 L109.6,227.5 L110.0,227.5 L110.4,227.4 L110.8,227.4 L111.3,227.3 L111.7,227.2 L112.1,227.2 L112.5,227.1 L112.9,227.1 L113.4,227.0 L113.8,226.9 L114.2,226.9 L114.6,226.8 L115.1,226.7 L115.5,226.7 L115.9,226.6 L116.3,226.5 L116.7,226.4 L117.2,226.4 L117.6,226.3 L118.0,226.2 L118.4,226.1 L118.9,226.1 L119.3,226.0 L119.7,225.9 L120.1,225.8 L120.6,225.7 L121.0,225.6 L121.4,225.5 L121.8,225.4 L122.2,225.3 L122.7,225.2 L123.1,225.1 L123.5,225.0 L123.9,224.9 L124.4,224.8 L124.8,224.7 L125.2,224.6 L125.6,224.4 L126.0,224.3 L126.5,224.2 L126.9,224.1 L127.3,223.9 L127.7,223.8 L128.2,223.7 L128.6,223.5 L129.0,223.4 L129.4,223.2 L129.9,223.1 L130.3,222.9 L130.7,222.7 L131.1,222.6 L131.5,222.4 L132.0,222.2 L132.4,222.0 L132.8,221.8 L133.2,221.6 L133.7,221.4 L134.1,221.2 L134.5,221.0 L134.9,220.8 L135.3,220.6 L135.8,220.3 L136.2,220.1 L136.6,219.8 L137.0,219.6 L137.5,219.3 L137.9,219.0 L138.3,218.7 L138.7,218.5 L139.2,218.2 L139.6,217.8 L140.0,217.5 L140.4,217.2 L140.8,216.8 L141.3,216.5 L141.7,216.1 L142.1,215.7 L142.5,215.4 L143.0,215.0 L143.4,214.6 L143.8,214.1 L144.2,213.7 L144.7,213.3 L145.1,212.8 L145.5,212.4 L145.9,211.9 L146.3,211.4 L146.8,210.9 L147.2,210.4 L147.6,209.9 L148.0,209.4 L148.5,208.9 L148.9,208.4 L149.3,207.9 L149.7,207.4 L150.1,206.9 L150.6,206.4 L151.0,205.9 L151.4,205.5 L151.8,205.0 L152.3,204.6 L152.7,204.2 L153.1,203.7 L153.5,203.4 L154.0,203.0 L154.4,202.7 L154.8,202.4 L155.2,202.1 L155.6,201.8 L156.1,201.6 L156.5,201.5 L156.9,201.4 L157.3,201.3 L157.8,201.3 L158.2,201.3 L158.6,201.3 L159.0,201.3 L159.4,201.3 L159.9,201.4 L160.3,201.4 L160.7,201.4 L161.1,201.5 L161.6,201.5 L162.0,201.5 L162.4,201.5 L162.8,201.4 L163.3,201.4 L163.7,201.3 L164.1,201.2 L164.5,201.0 L164.9,200.8 L165.4,200.6 L165.8,200.4 L166.2,200.1 L166.6,199.8 L167.1,199.5 L167.5,199.1 L167.9,198.7 L168.3,198.2 L168.7,197.7 L169.2,197.2 L169.6,196.7 L170.0,196.1 L170.4,195.5 L170.9,194.8 L171.3,194.1 L171.7,193.3 L172.1,192.5 L172.6,191.7 L173.0,190.8 L173.4,189.9 L173.8,189.0 L174.2,187.9 L174.7,186.9 L175.1,185.8 L175.5,184.6 L175.9,183.4 L176.4,182.1 L176.8,180.8 L177.2,179.4 L177.6,178.0 L178.0,176.5 L178.5,174.9 L178.9,173.3 L179.3,171.6 L179.7,169.8 L180.2,168.0 L180.6,166.1 L181.0,164.1 L181.4,162.1 L181.9,159.9 L182.3,157.7 L182.7,155.5 L183.1,153.1 L183.5,150.7 L184.0,148.2 L184.4,145.7 L184.8,143.0 L185.2,140.3 L185.7,137.6 L186.1,134.8 L186.5,131.9 L186.9,129.1 L187.3,126.1 L187.8,123.2 L188.2,120.3 L188.6,117.3 L189.0,114.4 L189.5,111.5 L189.9,108.7 L190.3,106.0 L190.7,103.3 L191.2,100.8 L191.6,98.4 L192.0,96.1 L192.4,94.0 L192.8,92.2 L193.3,90.5 L193.7,89.1 L194.1,87.9 L194.5,87.0 L195.0,86.4 L195.4,86.1 L195.8,86.0 L196.2,86.3 L196.6,86.8 L197.1,87.7 L197.5,88.8 L197.9,90.3 L198.3,91.9 L198.8,93.9 L199.2,96.0 L199.6,98.4 L200.0,100.9 L200.5,103.5 L200.9,106.3 L201.3,109.2 L201.7,112.2 L202.1,115.2 L202.6,118.3 L203.0,121.4 L203.4,124.5 L203.8,127.6 L204.3,130.7 L204.7,133.7 L205.1,136.7 L205.5,139.6 L205.9,142.5 L206.4,145.3 L206.8,148.1 L207.2,150.8 L207.6,153.4 L208.1,155.9 L208.5,158.3 L208.9,160.7 L209.3,163.0 L209.8,165.2 L210.2,167.3 L210.6,169.4 L211.0,171.4 L211.4,173.3 L211.9,175.2 L212.3,176.9 L212.7,178.7 L213.1,180.3 L213.6,181.9 L214.0,183.4 L214.4,184.9 L214.8,186.3 L215.2,187.7 L215.7,189.0 L216.1,190.2 L216.5,191.4 L216.9,192.6 L217.4,193.7 L217.8,194.8 L218.2,195.8 L218.6,196.8 L219.1,197.8 L219.5,198.7 L219.9,199.6 L220.3,200.5 L220.7,201.3 L221.2,202.1 L221.6,202.9 L222.0,203.6 L222.4,204.4 L222.9,205.1 L223.3,205.7 L223.7,206.4 L224.1,207.0 L224.5,207.6 L225.0,208.2 L225.4,208.8 L225.8,209.3 L226.2,209.8 L226.7,210.4 L227.1,210.8 L227.5,211.3 L227.9,211.8 L228.4,212.2 L228.8,212.7 L229.2,213.1 L229.6,213.5 L230.0,213.9 L230.5,214.3 L230.9,214.7 L231.3,215.0 L231.7,215.4 L232.2,215.7 L232.6,216.0 L233.0,216.4 L233.4,216.7 L233.8,217.0 L234.3,217.3 L234.7,217.6 L235.1,217.8 L235.5,218.1 L236.0,218.4 L236.4,218.6 L236.8,218.9 L237.2,219.1 L237.7,219.4 L238.1,219.6 L238.5,219.8 L238.9,220.0 L239.3,220.2 L239.8,220.5 L240.2,220.7 L240.6,220.9 L241.0,221.0 L241.5,221.2 L241.9,221.4 L242.3,221.6 L242.7,221.8 L243.2,221.9 L243.6,222.1 L244.0,222.3 L244.4,222.4 L244.8,222.6 L245.3,222.7 L245.7,222.9 L246.1,223.0 L246.5,223.2 L247.0,223.3 L247.4,223.4 L247.8,223.6 L248.2,223.7 L248.6,223.8 L249.1,223.9 L249.5,224.1 L249.9,224.2 L250.3,224.3 L250.8,224.4 L251.2,224.5 L251.6,224.6 L252.0,224.7 L252.5,224.8 L252.9,224.9 L253.3,225.0 L253.7,225.1 L254.1,225.2 L254.6,225.3 L255.0,225.4 L255.4,225.5 L255.8,225.6 L256.3,225.7 L256.7,225.8 L257.1,225.8 L257.5,225.9 L257.9,226.0 L258.4,226.1 L258.8,226.2 L259.2,226.2 L259.6,226.3 L260.1,226.4 L260.5,226.5 L260.9,226.5 L261.3,226.6 L261.8,226.7 L262.2,226.7 L262.6,226.8 L263.0,226.9 L263.4,226.9 L263.9,227.0 L264.3,227.0 L264.7,227.1 L265.1,227.2 L265.6,227.2 L266.0,227.3 L266.4,227.3 L266.8,227.4 L267.2,227.4 L267.7,227.5 L268.1,227.5 L268.5,227.6 L268.9,227.6 L269.4,227.7 L269.8,227.7 L270.2,227.8 L270.6,227.8 L271.1,227.9 L271.5,227.9 L271.9,228.0 L272.3,228.0 L272.7,228.1 L273.2,228.1 L273.6,228.1 L274.0,228.2 L274.4,228.2 L274.9,228.3 L275.3,228.3 L275.7,228.4 L276.1,228.4 L276.5,228.4 L277.0,228.5 L277.4,228.5 L277.8,228.5 L278.2,228.6 L278.7,228.6 L279.1,228.6 L279.5,228.7 L279.9,228.7 L280.4,228.7 L280.8,228.8 L281.2,228.8 L281.6,228.8 L282.0,228.9 L282.5,228.9 L282.9,228.9 L283.3,229.0 L283.7,229.0 L284.2,229.0 L284.6,229.0 L285.0,229.1 L285.4,229.1 L285.8,229.1 L286.3,229.2 L286.7,229.2 L287.1,229.2 L287.5,229.2 L288.0,229.3 L288.4,229.3 L288.8,229.3 L289.2,229.3 L289.7,229.4 L290.1,229.4 L290.5,229.4 L290.9,229.4 L291.3,229.5 L291.8,229.5 L292.2,229.5 L292.6,229.5 L293.0,229.5 L293.5,229.6 L293.9,229.6 L294.3,229.6 L294.7,229.6 L295.1,229.7 L295.6,229.7 L296.0,229.7 L296.4,229.7 L296.8,229.7 L297.3,229.8 L297.7,229.8 L298.1,229.8 L298.5,229.8 L299.0,229.8 L299.4,229.8 L299.8,229.9 L300.2,229.9 L300.6,229.9 L301.1,229.9 L301.5,229.9 L301.9,230.0 L302.3,230.0 L302.8,230.0 L303.2,230.0 L303.6,230.0 L304.0,230.0 L304.4,230.1 L304.9,230.1 L305.3,230.1 L305.7,230.1 L306.1,230.1 L306.6,230.1 L307.0,230.1 L307.4,230.2 L307.8,230.2 L308.3,230.2 L308.7,230.2 L309.1,230.2 L309.5,230.2 L309.9,230.2 L310.4,230.3 L310.8,230.3 L311.2,230.3 L311.6,230.3 L312.1,230.3 L312.5,230.3 L312.9,230.3 L313.3,230.4 L313.7,230.4 L314.2,230.4 L314.6,230.4 L315.0,230.4 L315.4,230.4 L315.9,230.4 L316.3,230.4 L316.7,230.4 L317.1,230.5 L317.6,230.5 L318.0,230.5 L318.4,230.5 L318.8,230.5 L319.2,230.5 L319.7,230.5 L320.1,230.5 L320.5,230.5 L320.9,230.6 L321.4,230.6 L321.8,230.6 L322.2,230.6 L322.6,230.6 L323.0,230.6 L323.5,230.6 L323.9,230.6 L324.3,230.6 L324.7,230.6 L325.2,230.7 L325.6,230.7 L326.0,230.7 L326.4,230.7 L326.9,230.7 L327.3,230.7 L327.7,230.7 L328.1,230.7 L328.5,230.7 L329.0,230.7 L329.4,230.7 L329.8,230.8 L330.2,230.8 L330.7,230.8 L331.1,230.8 L331.5,230.8 L331.9,230.8 L332.3,230.8 L332.8,230.8 L333.2,230.8 L333.6,230.8 L334.0,230.8 L334.5,230.8 L334.9,230.9 L335.3,230.9 L335.7,230.9 L336.2,230.9 L336.6,230.9 L337.0,230.9" class="tot"/></g>
<g class="ax"><line x1="36.2" x2="40.5" y1="232.20" y2="232.20"/><line x1="36.2" x2="40.5" y1="159.70" y2="159.70"/><line x1="36.2" x2="40.5" y1="87.20" y2="87.20"/><line x1="36.2" x2="40.5" y1="14.70" y2="14.70"/><line x1="38.2" x2="40.5" y1="195.95" y2="195.95"/><line x1="38.2" x2="40.5" y1="123.45" y2="123.45"/><line x1="38.2" x2="40.5" y1="50.95" y2="50.95"/><line x1="63.55" x2="63.55" y1="239.5" y2="243.8"/><line x1="109.25" x2="109.25" y1="239.5" y2="243.8"/><line x1="154.95" x2="154.95" y1="239.5" y2="243.8"/><line x1="200.65" x2="200.65" y1="239.5" y2="243.8"/><line x1="246.35" x2="246.35" y1="239.5" y2="243.8"/><line x1="292.05" x2="292.05" y1="239.5" y2="243.8"/><line x1="337.75" x2="337.75" y1="239.5" y2="243.8"/><line x1="86.40" x2="86.40" y1="239.5" y2="241.8"/><line x1="132.10" x2="132.10" y1="239.5" y2="241.8"/><line x1="177.80" x2="177.80" y1="239.5" y2="241.8"/><line x1="223.50" x2="223.50" y1="239.5" y2="241.8"/><line x1="269.20" x2="269.20" y1="239.5" y2="241.8"/><line x1="314.90" x2="314.90" y1="239.5" y2="241.8"/></g>
<line x1="41" x2="41" y1="0" y2="241.3" stroke="#808080" stroke-width="2"/>
<line x1="40" x2="338" y1="0.5" y2="0.5" stroke="#555" stroke-width="1"/>
<line x1="337.6" x2="337.6" y1="0" y2="239.5" stroke="#707070" stroke-width="1.2"/>
<line x1="40" x2="338" y1="239.5" y2="239.5" stroke="#555" stroke-width="1"/>
<text x="19.3" y="234.80" textLength="14" class="tl">0.0</text><text x="19.3" y="162.50" textLength="14" class="tl">0.5</text><text x="19.3" y="90.20" textLength="14" class="tl">1.0</text><text x="19.3" y="17.90" textLength="14" class="tl">1.5</text>
<text x="50.55" y="256.0" textLength="26" class="tl">491.6</text><text x="96.25" y="256.0" textLength="26" class="tl">491.8</text><text x="141.95" y="256.0" textLength="26" class="tl">492.0</text><text x="187.65" y="256.0" textLength="26" class="tl">492.2</text><text x="233.35" y="256.0" textLength="26" class="tl">492.4</text><text x="279.05" y="256.0" textLength="26" class="tl">492.6</text><text x="324.75" y="256.0" textLength="26" class="tl">492.8</text>
<text x="138.4" y="276.4" textLength="100.8" class="bw" style="font-size:12.8px;font-weight:bold;fill:#111">Wavelength (nm)</text>
<text transform="translate(10.0,162.8) rotate(-90)" textLength="84.5" class="bw" style="font-size:12px;font-weight:bold;fill:#111">Intensity (a.u.)</text>
<rect x="237.8" y="4.4" width="96.6" height="57.6" fill="#fff" stroke="#666" stroke-width="1"/>
<circle cx="252.2" cy="12.9" r="1.75" fill="#000"/>
<line x1="238.8" x2="265.6" y1="26.2" y2="26.2" class="da"/>
<line x1="238.8" x2="265.6" y1="40.6" y2="40.6" class="df"/>
<line x1="238.8" x2="265.6" y1="54.5" y2="54.5" class="tot"/>
<g class="bw" style="font-size:10.8px;font-weight:bold;fill:#111;letter-spacing:0.25px">
<text x="267.4" y="16.2">Experimental</text>
<text x="267.4" y="30.2">Allowed</text>
<text x="267.4" y="44.2">Forbidden</text>
<text x="267.4" y="58.4">Total</text>
</g>
<rect x="286.6" y="127.5" width="25.7" height="17.7" rx="1.5" fill="#fff" stroke="#606060" stroke-width="1.1"/>
<text x="288.0" y="140.5" textLength="22.3" class="bw" style="font-size:12.8px;font-weight:bold;fill:#111">5kV</text>
<rect x="288.6" y="202.9" width="24.6" height="16.9" rx="1.5" fill="#fff" stroke="#606060" stroke-width="1.1"/>
<text x="289.6" y="215.7" textLength="21.2" class="bw" style="font-size:12.8px;font-weight:bold;fill:#111">3kV</text>
<g style="font-size:12px;fill:#111">
<text x="46.4" y="94" style="font-style:italic;font-size:13.6px">I</text>
<text x="53.5" y="88.4" style="font-size:7.4px">π</text>
<text x="53.8" y="98.1" style="font-size:7.2px">F</text>
<text x="61.4" y="94" style="font-size:12.5px">/</text>
<text x="67.3" y="94" style="font-style:italic;font-size:13.6px">I</text>
<text x="73.9" y="88.4" style="font-size:7.4px">π</text>
<text x="73.1" y="97.9" style="font-size:7.2px">A</text>
<text x="80.3" y="94" style="font-weight:bold;font-size:13.5px">=</text>
<text x="89.9" y="94" textLength="63.0" lengthAdjust="spacingAndGlyphs" style="font-size:13.2px">0.135±0.008</text>
<text x="46" y="115.2" textLength="101.5" lengthAdjust="spacingAndGlyphs" style="font-size:13px"><tspan font-style="italic">E</tspan> = 8.2 ± 0.2 kV/cm</text>
<text x="46.4" y="180" style="font-style:italic;font-size:13.6px">I</text>
<text x="53.5" y="174.4" style="font-size:7.4px">π</text>
<text x="53.8" y="184.1" style="font-size:7.2px">F</text>
<text x="61.4" y="180" style="font-size:12.5px">/</text>
<text x="67.3" y="180" style="font-style:italic;font-size:13.6px">I</text>
<text x="73.9" y="174.4" style="font-size:7.4px">π</text>
<text x="73.1" y="183.9" style="font-size:7.2px">A</text>
<text x="83.3" y="180" style="font-size:12.5px">=</text>
<text x="92.6" y="180" textLength="57.0" lengthAdjust="spacingAndGlyphs" style="font-size:13.2px">0.069±0.01</text>
<text x="46" y="200.8" textLength="101.5" lengthAdjust="spacingAndGlyphs" style="font-size:13px"><tspan font-style="italic">E</tspan> = 5.8 ± 0.4 kV/cm</text>
</g>
</svg>
</body></html>
